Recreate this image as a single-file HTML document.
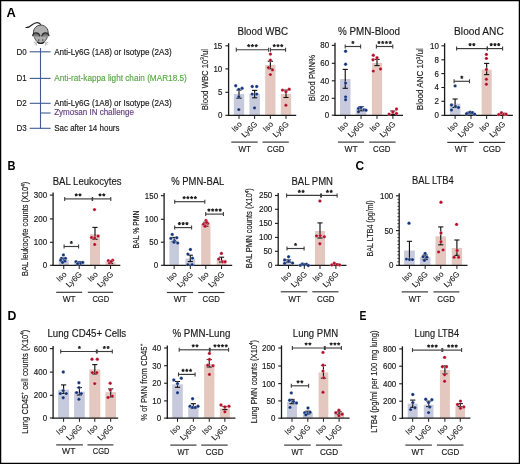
<!DOCTYPE html><html><head><meta charset="utf-8"><style>html,body{margin:0;padding:0;background:#fff;}svg{display:block;will-change:transform;}text{font-family:"Liberation Sans", sans-serif;}</style></head><body>
<svg width="520" height="464" viewBox="0 0 520 464">
<rect x="0" y="0" width="520" height="464" fill="#fff"/>
<rect x="233.80" y="93.90" width="10.40" height="21.40" fill="#c7cadd"/>
<rect x="249.40" y="93.90" width="10.50" height="21.40" fill="#c7cadd"/>
<rect x="265.20" y="64.90" width="10.30" height="50.40" fill="#e4c8bf"/>
<rect x="280.80" y="93.90" width="10.40" height="21.40" fill="#e4c8bf"/>
<line x1="228.60" y1="43.20" x2="228.60" y2="115.90" stroke="#1a1a1a" stroke-width="1.3"/>
<line x1="228.00" y1="115.30" x2="296.20" y2="115.30" stroke="#1a1a1a" stroke-width="1.3"/>
<line x1="239.00" y1="90.10" x2="239.00" y2="98.20" stroke="#111" stroke-width="1.15"/>
<line x1="236.40" y1="90.10" x2="241.60" y2="90.10" stroke="#111" stroke-width="1.1"/>
<line x1="236.40" y1="98.20" x2="241.60" y2="98.20" stroke="#111" stroke-width="1.1"/>
<line x1="254.65" y1="90.40" x2="254.65" y2="97.80" stroke="#111" stroke-width="1.15"/>
<line x1="252.05" y1="90.40" x2="257.25" y2="90.40" stroke="#111" stroke-width="1.1"/>
<line x1="252.05" y1="97.80" x2="257.25" y2="97.80" stroke="#111" stroke-width="1.1"/>
<line x1="270.35" y1="61.30" x2="270.35" y2="68.80" stroke="#111" stroke-width="1.15"/>
<line x1="267.75" y1="61.30" x2="272.95" y2="61.30" stroke="#111" stroke-width="1.1"/>
<line x1="267.75" y1="68.80" x2="272.95" y2="68.80" stroke="#111" stroke-width="1.1"/>
<line x1="286.00" y1="90.10" x2="286.00" y2="97.50" stroke="#111" stroke-width="1.15"/>
<line x1="283.40" y1="90.10" x2="288.60" y2="90.10" stroke="#111" stroke-width="1.1"/>
<line x1="283.40" y1="97.50" x2="288.60" y2="97.50" stroke="#111" stroke-width="1.1"/>
<circle cx="235.70" cy="85.70" r="1.7" fill="#12327a" stroke="#fff" stroke-width="0.5" stroke-opacity="0.55"/>
<circle cx="238.80" cy="89.40" r="1.7" fill="#12327a" stroke="#fff" stroke-width="0.5" stroke-opacity="0.55"/>
<circle cx="242.10" cy="88.30" r="1.7" fill="#12327a" stroke="#fff" stroke-width="0.5" stroke-opacity="0.55"/>
<circle cx="238.80" cy="96.80" r="1.7" fill="#12327a" stroke="#fff" stroke-width="0.5" stroke-opacity="0.55"/>
<circle cx="238.80" cy="109.60" r="1.7" fill="#12327a" stroke="#fff" stroke-width="0.5" stroke-opacity="0.55"/>
<circle cx="252.20" cy="86.50" r="1.7" fill="#12327a" stroke="#fff" stroke-width="0.5" stroke-opacity="0.55"/>
<circle cx="256.70" cy="86.50" r="1.7" fill="#12327a" stroke="#fff" stroke-width="0.5" stroke-opacity="0.55"/>
<circle cx="252.20" cy="94.10" r="1.7" fill="#12327a" stroke="#fff" stroke-width="0.5" stroke-opacity="0.55"/>
<circle cx="256.70" cy="94.10" r="1.7" fill="#12327a" stroke="#fff" stroke-width="0.5" stroke-opacity="0.55"/>
<circle cx="254.50" cy="107.90" r="1.7" fill="#12327a" stroke="#fff" stroke-width="0.5" stroke-opacity="0.55"/>
<circle cx="270.40" cy="54.10" r="1.7" fill="#b50c28" stroke="#fff" stroke-width="0.5" stroke-opacity="0.55"/>
<circle cx="270.40" cy="60.20" r="1.7" fill="#b50c28" stroke="#fff" stroke-width="0.5" stroke-opacity="0.55"/>
<circle cx="268.40" cy="67.60" r="1.7" fill="#b50c28" stroke="#fff" stroke-width="0.5" stroke-opacity="0.55"/>
<circle cx="272.50" cy="69.90" r="1.7" fill="#b50c28" stroke="#fff" stroke-width="0.5" stroke-opacity="0.55"/>
<circle cx="270.40" cy="74.60" r="1.7" fill="#b50c28" stroke="#fff" stroke-width="0.5" stroke-opacity="0.55"/>
<circle cx="282.50" cy="90.10" r="1.7" fill="#b50c28" stroke="#fff" stroke-width="0.5" stroke-opacity="0.55"/>
<circle cx="289.20" cy="89.20" r="1.7" fill="#b50c28" stroke="#fff" stroke-width="0.5" stroke-opacity="0.55"/>
<circle cx="285.90" cy="91.80" r="1.7" fill="#b50c28" stroke="#fff" stroke-width="0.5" stroke-opacity="0.55"/>
<circle cx="285.90" cy="105.20" r="1.7" fill="#b50c28" stroke="#fff" stroke-width="0.5" stroke-opacity="0.55"/>
<line x1="225.40" y1="45.80" x2="228.60" y2="45.80" stroke="#1a1a1a" stroke-width="1.1"/>
<text x="222.30" y="48.70" font-size="8.2" text-anchor="end" fill="#1a1a1a" font-weight="normal" textLength="8.84" lengthAdjust="spacingAndGlyphs" stroke="#1a1a1a" stroke-width="0.16">15</text>
<line x1="225.40" y1="68.90" x2="228.60" y2="68.90" stroke="#1a1a1a" stroke-width="1.1"/>
<text x="222.30" y="71.80" font-size="8.2" text-anchor="end" fill="#1a1a1a" font-weight="normal" textLength="8.84" lengthAdjust="spacingAndGlyphs" stroke="#1a1a1a" stroke-width="0.16">10</text>
<line x1="225.40" y1="92.30" x2="228.60" y2="92.30" stroke="#1a1a1a" stroke-width="1.1"/>
<text x="222.30" y="95.20" font-size="8.2" text-anchor="end" fill="#1a1a1a" font-weight="normal" textLength="4.42" lengthAdjust="spacingAndGlyphs" stroke="#1a1a1a" stroke-width="0.16">5</text>
<line x1="225.40" y1="115.30" x2="228.60" y2="115.30" stroke="#1a1a1a" stroke-width="1.1"/>
<text x="222.30" y="118.20" font-size="8.2" text-anchor="end" fill="#1a1a1a" font-weight="normal" textLength="4.42" lengthAdjust="spacingAndGlyphs" stroke="#1a1a1a" stroke-width="0.16">0</text>
<line x1="239.00" y1="115.30" x2="239.00" y2="118.90" stroke="#1a1a1a" stroke-width="1.0"/>
<line x1="254.65" y1="115.30" x2="254.65" y2="118.90" stroke="#1a1a1a" stroke-width="1.0"/>
<line x1="270.35" y1="115.30" x2="270.35" y2="118.90" stroke="#1a1a1a" stroke-width="1.0"/>
<line x1="286.00" y1="115.30" x2="286.00" y2="118.90" stroke="#1a1a1a" stroke-width="1.0"/>
<text transform="translate(207.60,79.60) rotate(-90)" font-size="9.8" text-anchor="middle" fill="#1a1a1a" stroke="#1a1a1a" stroke-width="0.16" textLength="61.20" lengthAdjust="spacingAndGlyphs">Blood WBC 10<tspan font-size="5.8" dy="-3.4">3</tspan><tspan dy="3.4">/ul</tspan></text>
<text x="237.40" y="34.80" font-size="10.4" text-anchor="start" fill="#1a1a1a" font-weight="normal" textLength="50.60" lengthAdjust="spacingAndGlyphs" stroke="#1a1a1a" stroke-width="0.16">Blood WBC</text>
<line x1="236.30" y1="49.70" x2="268.60" y2="49.70" stroke="#3c3c3c" stroke-width="1.15"/>
<line x1="236.30" y1="47.70" x2="236.30" y2="51.70" stroke="#3c3c3c" stroke-width="1.1"/>
<line x1="268.60" y1="47.70" x2="268.60" y2="51.70" stroke="#3c3c3c" stroke-width="1.1"/>
<path d="M248.70,45.70L248.70,44.10M248.70,45.70L250.22,45.21M248.70,45.70L249.64,46.99M248.70,45.70L247.76,46.99M248.70,45.70L247.18,45.21" stroke="#1e1e1e" stroke-width="1.1" fill="none"/>
<path d="M252.45,45.70L252.45,44.10M252.45,45.70L253.97,45.21M252.45,45.70L253.39,46.99M252.45,45.70L251.51,46.99M252.45,45.70L250.93,45.21" stroke="#1e1e1e" stroke-width="1.1" fill="none"/>
<path d="M256.20,45.70L256.20,44.10M256.20,45.70L257.72,45.21M256.20,45.70L257.14,46.99M256.20,45.70L255.26,46.99M256.20,45.70L254.68,45.21" stroke="#1e1e1e" stroke-width="1.1" fill="none"/>
<line x1="270.40" y1="49.70" x2="285.60" y2="49.70" stroke="#3c3c3c" stroke-width="1.15"/>
<line x1="270.40" y1="47.70" x2="270.40" y2="51.70" stroke="#3c3c3c" stroke-width="1.1"/>
<line x1="285.60" y1="47.70" x2="285.60" y2="51.70" stroke="#3c3c3c" stroke-width="1.1"/>
<path d="M274.25,45.70L274.25,44.10M274.25,45.70L275.77,45.21M274.25,45.70L275.19,46.99M274.25,45.70L273.31,46.99M274.25,45.70L272.73,45.21" stroke="#1e1e1e" stroke-width="1.1" fill="none"/>
<path d="M278.00,45.70L278.00,44.10M278.00,45.70L279.52,45.21M278.00,45.70L278.94,46.99M278.00,45.70L277.06,46.99M278.00,45.70L276.48,45.21" stroke="#1e1e1e" stroke-width="1.1" fill="none"/>
<path d="M281.75,45.70L281.75,44.10M281.75,45.70L283.27,45.21M281.75,45.70L282.69,46.99M281.75,45.70L280.81,46.99M281.75,45.70L280.23,45.21" stroke="#1e1e1e" stroke-width="1.1" fill="none"/>
<text transform="translate(242.30,124.70) rotate(-45)" font-size="8.0" text-anchor="end" fill="#1a1a1a" stroke="#1a1a1a" stroke-width="0.08">Iso</text>
<text transform="translate(257.95,124.70) rotate(-45)" font-size="8.0" text-anchor="end" fill="#1a1a1a" stroke="#1a1a1a" stroke-width="0.08">Ly6G</text>
<text transform="translate(273.65,124.70) rotate(-45)" font-size="8.0" text-anchor="end" fill="#1a1a1a" stroke="#1a1a1a" stroke-width="0.08">Iso</text>
<text transform="translate(289.30,124.70) rotate(-45)" font-size="8.0" text-anchor="end" fill="#1a1a1a" stroke="#1a1a1a" stroke-width="0.08">Ly6G</text>
<line x1="231.30" y1="142.10" x2="257.70" y2="142.10" stroke="#333333" stroke-width="1.15"/>
<line x1="262.50" y1="142.10" x2="288.80" y2="142.10" stroke="#333333" stroke-width="1.15"/>
<text x="238.50" y="152.30" font-size="8.4" text-anchor="start" fill="#1a1a1a" font-weight="normal" textLength="12.50" lengthAdjust="spacingAndGlyphs" stroke="#1a1a1a" stroke-width="0.16">WT</text>
<text x="267.00" y="152.30" font-size="8.4" text-anchor="start" fill="#1a1a1a" font-weight="normal" textLength="17.60" lengthAdjust="spacingAndGlyphs" stroke="#1a1a1a" stroke-width="0.16">CGD</text>
<rect x="340.00" y="79.00" width="10.50" height="36.30" fill="#c7cadd"/>
<rect x="355.80" y="108.80" width="10.50" height="6.50" fill="#c7cadd"/>
<rect x="371.90" y="63.00" width="10.20" height="52.30" fill="#e4c8bf"/>
<rect x="387.80" y="113.00" width="10.20" height="2.30" fill="#e4c8bf"/>
<line x1="335.00" y1="42.80" x2="335.00" y2="115.90" stroke="#1a1a1a" stroke-width="1.3"/>
<line x1="334.40" y1="115.30" x2="403.00" y2="115.30" stroke="#1a1a1a" stroke-width="1.3"/>
<line x1="345.25" y1="69.40" x2="345.25" y2="88.30" stroke="#111" stroke-width="1.15"/>
<line x1="342.65" y1="69.40" x2="347.85" y2="69.40" stroke="#111" stroke-width="1.1"/>
<line x1="342.65" y1="88.30" x2="347.85" y2="88.30" stroke="#111" stroke-width="1.1"/>
<line x1="361.05" y1="106.60" x2="361.05" y2="110.80" stroke="#111" stroke-width="1.15"/>
<line x1="358.45" y1="106.60" x2="363.65" y2="106.60" stroke="#111" stroke-width="1.1"/>
<line x1="358.45" y1="110.80" x2="363.65" y2="110.80" stroke="#111" stroke-width="1.1"/>
<line x1="377.00" y1="59.40" x2="377.00" y2="65.60" stroke="#111" stroke-width="1.15"/>
<line x1="374.40" y1="59.40" x2="379.60" y2="59.40" stroke="#111" stroke-width="1.1"/>
<line x1="374.40" y1="65.60" x2="379.60" y2="65.60" stroke="#111" stroke-width="1.1"/>
<line x1="392.90" y1="111.00" x2="392.90" y2="114.60" stroke="#111" stroke-width="1.15"/>
<line x1="390.30" y1="111.00" x2="395.50" y2="111.00" stroke="#111" stroke-width="1.1"/>
<line x1="390.30" y1="114.60" x2="395.50" y2="114.60" stroke="#111" stroke-width="1.1"/>
<circle cx="345.60" cy="51.20" r="1.7" fill="#12327a" stroke="#fff" stroke-width="0.5" stroke-opacity="0.55"/>
<circle cx="345.60" cy="64.20" r="1.7" fill="#12327a" stroke="#fff" stroke-width="0.5" stroke-opacity="0.55"/>
<circle cx="345.60" cy="83.10" r="1.7" fill="#12327a" stroke="#fff" stroke-width="0.5" stroke-opacity="0.55"/>
<circle cx="345.60" cy="96.90" r="1.7" fill="#12327a" stroke="#fff" stroke-width="0.5" stroke-opacity="0.55"/>
<circle cx="345.60" cy="99.80" r="1.7" fill="#12327a" stroke="#fff" stroke-width="0.5" stroke-opacity="0.55"/>
<circle cx="358.50" cy="108.50" r="1.7" fill="#12327a" stroke="#fff" stroke-width="0.5" stroke-opacity="0.55"/>
<circle cx="361.00" cy="107.50" r="1.7" fill="#12327a" stroke="#fff" stroke-width="0.5" stroke-opacity="0.55"/>
<circle cx="364.00" cy="109.80" r="1.7" fill="#12327a" stroke="#fff" stroke-width="0.5" stroke-opacity="0.55"/>
<circle cx="358.50" cy="111.70" r="1.7" fill="#12327a" stroke="#fff" stroke-width="0.5" stroke-opacity="0.55"/>
<circle cx="366.00" cy="110.20" r="1.7" fill="#12327a" stroke="#fff" stroke-width="0.5" stroke-opacity="0.55"/>
<circle cx="373.30" cy="55.30" r="1.7" fill="#b50c28" stroke="#fff" stroke-width="0.5" stroke-opacity="0.55"/>
<circle cx="377.00" cy="57.80" r="1.7" fill="#b50c28" stroke="#fff" stroke-width="0.5" stroke-opacity="0.55"/>
<circle cx="373.00" cy="59.80" r="1.7" fill="#b50c28" stroke="#fff" stroke-width="0.5" stroke-opacity="0.55"/>
<circle cx="373.30" cy="71.10" r="1.7" fill="#b50c28" stroke="#fff" stroke-width="0.5" stroke-opacity="0.55"/>
<circle cx="380.50" cy="69.00" r="1.7" fill="#b50c28" stroke="#fff" stroke-width="0.5" stroke-opacity="0.55"/>
<circle cx="389.10" cy="114.10" r="1.7" fill="#b50c28" stroke="#fff" stroke-width="0.5" stroke-opacity="0.55"/>
<circle cx="392.80" cy="112.00" r="1.7" fill="#b50c28" stroke="#fff" stroke-width="0.5" stroke-opacity="0.55"/>
<circle cx="396.50" cy="109.00" r="1.7" fill="#b50c28" stroke="#fff" stroke-width="0.5" stroke-opacity="0.55"/>
<circle cx="396.50" cy="113.50" r="1.7" fill="#b50c28" stroke="#fff" stroke-width="0.5" stroke-opacity="0.55"/>
<line x1="331.80" y1="45.40" x2="335.00" y2="45.40" stroke="#1a1a1a" stroke-width="1.1"/>
<text x="329.20" y="48.30" font-size="8.2" text-anchor="end" fill="#1a1a1a" font-weight="normal" textLength="8.84" lengthAdjust="spacingAndGlyphs" stroke="#1a1a1a" stroke-width="0.16">80</text>
<line x1="331.80" y1="63.30" x2="335.00" y2="63.30" stroke="#1a1a1a" stroke-width="1.1"/>
<text x="329.20" y="66.20" font-size="8.2" text-anchor="end" fill="#1a1a1a" font-weight="normal" textLength="8.84" lengthAdjust="spacingAndGlyphs" stroke="#1a1a1a" stroke-width="0.16">60</text>
<line x1="331.80" y1="80.80" x2="335.00" y2="80.80" stroke="#1a1a1a" stroke-width="1.1"/>
<text x="329.20" y="83.70" font-size="8.2" text-anchor="end" fill="#1a1a1a" font-weight="normal" textLength="8.84" lengthAdjust="spacingAndGlyphs" stroke="#1a1a1a" stroke-width="0.16">40</text>
<line x1="331.80" y1="98.30" x2="335.00" y2="98.30" stroke="#1a1a1a" stroke-width="1.1"/>
<text x="329.20" y="101.20" font-size="8.2" text-anchor="end" fill="#1a1a1a" font-weight="normal" textLength="8.84" lengthAdjust="spacingAndGlyphs" stroke="#1a1a1a" stroke-width="0.16">20</text>
<line x1="331.80" y1="115.20" x2="335.00" y2="115.20" stroke="#1a1a1a" stroke-width="1.1"/>
<text x="329.20" y="118.10" font-size="8.2" text-anchor="end" fill="#1a1a1a" font-weight="normal" textLength="4.42" lengthAdjust="spacingAndGlyphs" stroke="#1a1a1a" stroke-width="0.16">0</text>
<line x1="345.25" y1="115.30" x2="345.25" y2="118.90" stroke="#1a1a1a" stroke-width="1.0"/>
<line x1="361.05" y1="115.30" x2="361.05" y2="118.90" stroke="#1a1a1a" stroke-width="1.0"/>
<line x1="377.00" y1="115.30" x2="377.00" y2="118.90" stroke="#1a1a1a" stroke-width="1.0"/>
<line x1="392.90" y1="115.30" x2="392.90" y2="118.90" stroke="#1a1a1a" stroke-width="1.0"/>
<text transform="translate(314.60,78.00) rotate(-90)" font-size="9.8" text-anchor="middle" fill="#1a1a1a" stroke="#1a1a1a" stroke-width="0.16" textLength="46.30" lengthAdjust="spacingAndGlyphs">Blood PMN%</text>
<text x="337.90" y="34.80" font-size="10.4" text-anchor="start" fill="#1a1a1a" font-weight="normal" textLength="62.00" lengthAdjust="spacingAndGlyphs" stroke="#1a1a1a" stroke-width="0.16">% PMN-Blood</text>
<line x1="345.20" y1="46.50" x2="360.60" y2="46.50" stroke="#3c3c3c" stroke-width="1.15"/>
<line x1="345.20" y1="44.50" x2="345.20" y2="48.50" stroke="#3c3c3c" stroke-width="1.1"/>
<line x1="360.60" y1="44.50" x2="360.60" y2="48.50" stroke="#3c3c3c" stroke-width="1.1"/>
<path d="M352.90,42.50L352.90,40.90M352.90,42.50L354.42,42.01M352.90,42.50L353.84,43.79M352.90,42.50L351.96,43.79M352.90,42.50L351.38,42.01" stroke="#1e1e1e" stroke-width="1.1" fill="none"/>
<line x1="376.40" y1="46.50" x2="392.80" y2="46.50" stroke="#3c3c3c" stroke-width="1.15"/>
<line x1="376.40" y1="44.50" x2="376.40" y2="48.50" stroke="#3c3c3c" stroke-width="1.1"/>
<line x1="392.80" y1="44.50" x2="392.80" y2="48.50" stroke="#3c3c3c" stroke-width="1.1"/>
<path d="M378.98,42.50L378.98,40.90M378.98,42.50L380.50,42.01M378.98,42.50L379.92,43.79M378.98,42.50L378.03,43.79M378.98,42.50L377.45,42.01" stroke="#1e1e1e" stroke-width="1.1" fill="none"/>
<path d="M382.73,42.50L382.73,40.90M382.73,42.50L384.25,42.01M382.73,42.50L383.67,43.79M382.73,42.50L381.78,43.79M382.73,42.50L381.20,42.01" stroke="#1e1e1e" stroke-width="1.1" fill="none"/>
<path d="M386.48,42.50L386.48,40.90M386.48,42.50L388.00,42.01M386.48,42.50L387.42,43.79M386.48,42.50L385.53,43.79M386.48,42.50L384.95,42.01" stroke="#1e1e1e" stroke-width="1.1" fill="none"/>
<path d="M390.23,42.50L390.23,40.90M390.23,42.50L391.75,42.01M390.23,42.50L391.17,43.79M390.23,42.50L389.28,43.79M390.23,42.50L388.70,42.01" stroke="#1e1e1e" stroke-width="1.1" fill="none"/>
<text transform="translate(348.55,124.70) rotate(-45)" font-size="8.0" text-anchor="end" fill="#1a1a1a" stroke="#1a1a1a" stroke-width="0.08">Iso</text>
<text transform="translate(364.35,124.70) rotate(-45)" font-size="8.0" text-anchor="end" fill="#1a1a1a" stroke="#1a1a1a" stroke-width="0.08">Ly6G</text>
<text transform="translate(380.30,124.70) rotate(-45)" font-size="8.0" text-anchor="end" fill="#1a1a1a" stroke="#1a1a1a" stroke-width="0.08">Iso</text>
<text transform="translate(396.20,124.70) rotate(-45)" font-size="8.0" text-anchor="end" fill="#1a1a1a" stroke="#1a1a1a" stroke-width="0.08">Ly6G</text>
<line x1="337.90" y1="142.10" x2="364.00" y2="142.10" stroke="#333333" stroke-width="1.15"/>
<line x1="369.20" y1="142.10" x2="395.60" y2="142.10" stroke="#333333" stroke-width="1.15"/>
<text x="344.60" y="151.80" font-size="8.4" text-anchor="start" fill="#1a1a1a" font-weight="normal" textLength="13.10" lengthAdjust="spacingAndGlyphs" stroke="#1a1a1a" stroke-width="0.16">WT</text>
<text x="373.00" y="151.80" font-size="8.4" text-anchor="start" fill="#1a1a1a" font-weight="normal" textLength="17.40" lengthAdjust="spacingAndGlyphs" stroke="#1a1a1a" stroke-width="0.16">CGD</text>
<rect x="449.80" y="103.70" width="10.60" height="11.60" fill="#c7cadd"/>
<rect x="466.00" y="112.80" width="10.00" height="2.50" fill="#c7cadd"/>
<rect x="481.60" y="69.70" width="10.10" height="45.60" fill="#e4c8bf"/>
<rect x="497.70" y="114.30" width="9.90" height="1.00" fill="#e4c8bf"/>
<line x1="444.60" y1="43.20" x2="444.60" y2="115.90" stroke="#1a1a1a" stroke-width="1.3"/>
<line x1="444.00" y1="115.30" x2="512.90" y2="115.30" stroke="#1a1a1a" stroke-width="1.3"/>
<line x1="455.10" y1="99.00" x2="455.10" y2="107.50" stroke="#111" stroke-width="1.15"/>
<line x1="452.50" y1="99.00" x2="457.70" y2="99.00" stroke="#111" stroke-width="1.1"/>
<line x1="452.50" y1="107.50" x2="457.70" y2="107.50" stroke="#111" stroke-width="1.1"/>
<line x1="471.00" y1="111.80" x2="471.00" y2="113.80" stroke="#111" stroke-width="1.15"/>
<line x1="468.40" y1="111.80" x2="473.60" y2="111.80" stroke="#111" stroke-width="1.1"/>
<line x1="468.40" y1="113.80" x2="473.60" y2="113.80" stroke="#111" stroke-width="1.1"/>
<line x1="486.65" y1="63.40" x2="486.65" y2="74.60" stroke="#111" stroke-width="1.15"/>
<line x1="484.05" y1="63.40" x2="489.25" y2="63.40" stroke="#111" stroke-width="1.1"/>
<line x1="484.05" y1="74.60" x2="489.25" y2="74.60" stroke="#111" stroke-width="1.1"/>
<line x1="502.65" y1="113.20" x2="502.65" y2="115.00" stroke="#111" stroke-width="1.15"/>
<line x1="500.05" y1="113.20" x2="505.25" y2="113.20" stroke="#111" stroke-width="1.1"/>
<line x1="500.05" y1="115.00" x2="505.25" y2="115.00" stroke="#111" stroke-width="1.1"/>
<circle cx="455.10" cy="85.90" r="1.7" fill="#12327a" stroke="#fff" stroke-width="0.5" stroke-opacity="0.55"/>
<circle cx="451.50" cy="105.00" r="1.7" fill="#12327a" stroke="#fff" stroke-width="0.5" stroke-opacity="0.55"/>
<circle cx="455.50" cy="106.40" r="1.7" fill="#12327a" stroke="#fff" stroke-width="0.5" stroke-opacity="0.55"/>
<circle cx="458.50" cy="107.50" r="1.7" fill="#12327a" stroke="#fff" stroke-width="0.5" stroke-opacity="0.55"/>
<circle cx="451.50" cy="110.00" r="1.7" fill="#12327a" stroke="#fff" stroke-width="0.5" stroke-opacity="0.55"/>
<circle cx="468.00" cy="113.00" r="1.7" fill="#12327a" stroke="#fff" stroke-width="0.5" stroke-opacity="0.55"/>
<circle cx="470.20" cy="112.30" r="1.7" fill="#12327a" stroke="#fff" stroke-width="0.5" stroke-opacity="0.55"/>
<circle cx="472.40" cy="112.80" r="1.7" fill="#12327a" stroke="#fff" stroke-width="0.5" stroke-opacity="0.55"/>
<circle cx="474.60" cy="114.20" r="1.7" fill="#12327a" stroke="#fff" stroke-width="0.5" stroke-opacity="0.55"/>
<circle cx="466.50" cy="113.80" r="1.7" fill="#12327a" stroke="#fff" stroke-width="0.5" stroke-opacity="0.55"/>
<circle cx="486.40" cy="54.40" r="1.7" fill="#b50c28" stroke="#fff" stroke-width="0.5" stroke-opacity="0.55"/>
<circle cx="486.40" cy="58.40" r="1.7" fill="#b50c28" stroke="#fff" stroke-width="0.5" stroke-opacity="0.55"/>
<circle cx="486.40" cy="69.50" r="1.7" fill="#b50c28" stroke="#fff" stroke-width="0.5" stroke-opacity="0.55"/>
<circle cx="486.40" cy="79.30" r="1.7" fill="#b50c28" stroke="#fff" stroke-width="0.5" stroke-opacity="0.55"/>
<circle cx="486.40" cy="84.20" r="1.7" fill="#b50c28" stroke="#fff" stroke-width="0.5" stroke-opacity="0.55"/>
<circle cx="498.80" cy="114.50" r="1.7" fill="#b50c28" stroke="#fff" stroke-width="0.5" stroke-opacity="0.55"/>
<circle cx="501.40" cy="112.80" r="1.7" fill="#b50c28" stroke="#fff" stroke-width="0.5" stroke-opacity="0.55"/>
<circle cx="503.90" cy="114.50" r="1.7" fill="#b50c28" stroke="#fff" stroke-width="0.5" stroke-opacity="0.55"/>
<circle cx="506.10" cy="114.20" r="1.7" fill="#b50c28" stroke="#fff" stroke-width="0.5" stroke-opacity="0.55"/>
<line x1="441.40" y1="45.80" x2="444.60" y2="45.80" stroke="#1a1a1a" stroke-width="1.1"/>
<text x="438.90" y="48.70" font-size="8.2" text-anchor="end" fill="#1a1a1a" font-weight="normal" textLength="8.84" lengthAdjust="spacingAndGlyphs" stroke="#1a1a1a" stroke-width="0.16">10</text>
<line x1="441.40" y1="59.80" x2="444.60" y2="59.80" stroke="#1a1a1a" stroke-width="1.1"/>
<text x="438.90" y="62.70" font-size="8.2" text-anchor="end" fill="#1a1a1a" font-weight="normal" textLength="4.42" lengthAdjust="spacingAndGlyphs" stroke="#1a1a1a" stroke-width="0.16">8</text>
<line x1="441.40" y1="73.60" x2="444.60" y2="73.60" stroke="#1a1a1a" stroke-width="1.1"/>
<text x="438.90" y="76.50" font-size="8.2" text-anchor="end" fill="#1a1a1a" font-weight="normal" textLength="4.42" lengthAdjust="spacingAndGlyphs" stroke="#1a1a1a" stroke-width="0.16">6</text>
<line x1="441.40" y1="87.50" x2="444.60" y2="87.50" stroke="#1a1a1a" stroke-width="1.1"/>
<text x="438.90" y="90.40" font-size="8.2" text-anchor="end" fill="#1a1a1a" font-weight="normal" textLength="4.42" lengthAdjust="spacingAndGlyphs" stroke="#1a1a1a" stroke-width="0.16">4</text>
<line x1="441.40" y1="101.30" x2="444.60" y2="101.30" stroke="#1a1a1a" stroke-width="1.1"/>
<text x="438.90" y="104.20" font-size="8.2" text-anchor="end" fill="#1a1a1a" font-weight="normal" textLength="4.42" lengthAdjust="spacingAndGlyphs" stroke="#1a1a1a" stroke-width="0.16">2</text>
<line x1="441.40" y1="115.30" x2="444.60" y2="115.30" stroke="#1a1a1a" stroke-width="1.1"/>
<text x="438.90" y="118.20" font-size="8.2" text-anchor="end" fill="#1a1a1a" font-weight="normal" textLength="4.42" lengthAdjust="spacingAndGlyphs" stroke="#1a1a1a" stroke-width="0.16">0</text>
<line x1="455.10" y1="115.30" x2="455.10" y2="118.90" stroke="#1a1a1a" stroke-width="1.0"/>
<line x1="471.00" y1="115.30" x2="471.00" y2="118.90" stroke="#1a1a1a" stroke-width="1.0"/>
<line x1="486.65" y1="115.30" x2="486.65" y2="118.90" stroke="#1a1a1a" stroke-width="1.0"/>
<line x1="502.65" y1="115.30" x2="502.65" y2="118.90" stroke="#1a1a1a" stroke-width="1.0"/>
<text transform="translate(423.40,79.20) rotate(-90)" font-size="9.8" text-anchor="middle" fill="#1a1a1a" stroke="#1a1a1a" stroke-width="0.16" textLength="61.90" lengthAdjust="spacingAndGlyphs">Blood ANC 10<tspan font-size="5.8" dy="-3.4">3</tspan><tspan dy="3.4">/ul</tspan></text>
<text x="454.10" y="34.60" font-size="10.4" text-anchor="start" fill="#1a1a1a" font-weight="normal" textLength="49.70" lengthAdjust="spacingAndGlyphs" stroke="#1a1a1a" stroke-width="0.16">Blood ANC</text>
<line x1="456.60" y1="48.60" x2="487.30" y2="48.60" stroke="#3c3c3c" stroke-width="1.15"/>
<line x1="456.60" y1="46.60" x2="456.60" y2="50.60" stroke="#3c3c3c" stroke-width="1.1"/>
<line x1="487.30" y1="46.60" x2="487.30" y2="50.60" stroke="#3c3c3c" stroke-width="1.1"/>
<path d="M470.08,44.60L470.08,43.00M470.08,44.60L471.60,44.11M470.08,44.60L471.02,45.89M470.08,44.60L469.13,45.89M470.08,44.60L468.55,44.11" stroke="#1e1e1e" stroke-width="1.1" fill="none"/>
<path d="M473.83,44.60L473.83,43.00M473.83,44.60L475.35,44.11M473.83,44.60L474.77,45.89M473.83,44.60L472.88,45.89M473.83,44.60L472.30,44.11" stroke="#1e1e1e" stroke-width="1.1" fill="none"/>
<line x1="487.30" y1="48.60" x2="502.60" y2="48.60" stroke="#3c3c3c" stroke-width="1.15"/>
<line x1="487.30" y1="46.60" x2="487.30" y2="50.60" stroke="#3c3c3c" stroke-width="1.1"/>
<line x1="502.60" y1="46.60" x2="502.60" y2="50.60" stroke="#3c3c3c" stroke-width="1.1"/>
<path d="M491.20,44.60L491.20,43.00M491.20,44.60L492.72,44.11M491.20,44.60L492.14,45.89M491.20,44.60L490.26,45.89M491.20,44.60L489.68,44.11" stroke="#1e1e1e" stroke-width="1.1" fill="none"/>
<path d="M494.95,44.60L494.95,43.00M494.95,44.60L496.47,44.11M494.95,44.60L495.89,45.89M494.95,44.60L494.01,45.89M494.95,44.60L493.43,44.11" stroke="#1e1e1e" stroke-width="1.1" fill="none"/>
<path d="M498.70,44.60L498.70,43.00M498.70,44.60L500.22,44.11M498.70,44.60L499.64,45.89M498.70,44.60L497.76,45.89M498.70,44.60L497.18,44.11" stroke="#1e1e1e" stroke-width="1.1" fill="none"/>
<line x1="454.10" y1="81.30" x2="469.50" y2="81.30" stroke="#3c3c3c" stroke-width="1.15"/>
<line x1="454.10" y1="79.30" x2="454.10" y2="83.30" stroke="#3c3c3c" stroke-width="1.1"/>
<line x1="469.50" y1="79.30" x2="469.50" y2="83.30" stroke="#3c3c3c" stroke-width="1.1"/>
<path d="M461.80,77.30L461.80,75.70M461.80,77.30L463.32,76.81M461.80,77.30L462.74,78.59M461.80,77.30L460.86,78.59M461.80,77.30L460.28,76.81" stroke="#1e1e1e" stroke-width="1.1" fill="none"/>
<text transform="translate(458.40,124.70) rotate(-45)" font-size="8.0" text-anchor="end" fill="#1a1a1a" stroke="#1a1a1a" stroke-width="0.08">Iso</text>
<text transform="translate(474.30,124.70) rotate(-45)" font-size="8.0" text-anchor="end" fill="#1a1a1a" stroke="#1a1a1a" stroke-width="0.08">Ly6G</text>
<text transform="translate(489.95,124.70) rotate(-45)" font-size="8.0" text-anchor="end" fill="#1a1a1a" stroke="#1a1a1a" stroke-width="0.08">Iso</text>
<text transform="translate(505.95,124.70) rotate(-45)" font-size="8.0" text-anchor="end" fill="#1a1a1a" stroke="#1a1a1a" stroke-width="0.08">Ly6G</text>
<line x1="447.30" y1="142.40" x2="473.80" y2="142.40" stroke="#333333" stroke-width="1.15"/>
<line x1="479.00" y1="142.40" x2="505.10" y2="142.40" stroke="#333333" stroke-width="1.15"/>
<text x="454.70" y="151.90" font-size="8.4" text-anchor="start" fill="#1a1a1a" font-weight="normal" textLength="12.70" lengthAdjust="spacingAndGlyphs" stroke="#1a1a1a" stroke-width="0.16">WT</text>
<text x="482.90" y="151.90" font-size="8.4" text-anchor="start" fill="#1a1a1a" font-weight="normal" textLength="17.90" lengthAdjust="spacingAndGlyphs" stroke="#1a1a1a" stroke-width="0.16">CGD</text>
<rect x="58.70" y="259.70" width="10.10" height="5.70" fill="#c7cadd"/>
<rect x="74.20" y="262.20" width="10.00" height="3.20" fill="#c7cadd"/>
<rect x="90.00" y="234.20" width="10.00" height="31.20" fill="#e4c8bf"/>
<rect x="105.60" y="262.20" width="9.90" height="3.20" fill="#e4c8bf"/>
<line x1="53.10" y1="192.50" x2="53.10" y2="266.00" stroke="#1a1a1a" stroke-width="1.3"/>
<line x1="52.50" y1="265.40" x2="120.30" y2="265.40" stroke="#1a1a1a" stroke-width="1.3"/>
<line x1="63.75" y1="258.00" x2="63.75" y2="261.60" stroke="#111" stroke-width="1.15"/>
<line x1="61.15" y1="258.00" x2="66.35" y2="258.00" stroke="#111" stroke-width="1.1"/>
<line x1="61.15" y1="261.60" x2="66.35" y2="261.60" stroke="#111" stroke-width="1.1"/>
<line x1="79.20" y1="261.60" x2="79.20" y2="263.60" stroke="#111" stroke-width="1.15"/>
<line x1="76.60" y1="261.60" x2="81.80" y2="261.60" stroke="#111" stroke-width="1.1"/>
<line x1="76.60" y1="263.60" x2="81.80" y2="263.60" stroke="#111" stroke-width="1.1"/>
<line x1="95.00" y1="227.40" x2="95.00" y2="239.30" stroke="#111" stroke-width="1.15"/>
<line x1="92.40" y1="227.40" x2="97.60" y2="227.40" stroke="#111" stroke-width="1.1"/>
<line x1="92.40" y1="239.30" x2="97.60" y2="239.30" stroke="#111" stroke-width="1.1"/>
<line x1="110.55" y1="260.60" x2="110.55" y2="263.40" stroke="#111" stroke-width="1.15"/>
<line x1="107.95" y1="260.60" x2="113.15" y2="260.60" stroke="#111" stroke-width="1.1"/>
<line x1="107.95" y1="263.40" x2="113.15" y2="263.40" stroke="#111" stroke-width="1.1"/>
<circle cx="63.40" cy="254.90" r="1.7" fill="#12327a" stroke="#fff" stroke-width="0.5" stroke-opacity="0.55"/>
<circle cx="61.40" cy="258.40" r="1.7" fill="#12327a" stroke="#fff" stroke-width="0.5" stroke-opacity="0.55"/>
<circle cx="65.50" cy="258.40" r="1.7" fill="#12327a" stroke="#fff" stroke-width="0.5" stroke-opacity="0.55"/>
<circle cx="60.70" cy="260.30" r="1.7" fill="#12327a" stroke="#fff" stroke-width="0.5" stroke-opacity="0.55"/>
<circle cx="64.80" cy="261.10" r="1.7" fill="#12327a" stroke="#fff" stroke-width="0.5" stroke-opacity="0.55"/>
<circle cx="62.50" cy="262.40" r="1.7" fill="#12327a" stroke="#fff" stroke-width="0.5" stroke-opacity="0.55"/>
<circle cx="76.00" cy="261.60" r="1.7" fill="#12327a" stroke="#fff" stroke-width="0.5" stroke-opacity="0.55"/>
<circle cx="78.20" cy="263.00" r="1.7" fill="#12327a" stroke="#fff" stroke-width="0.5" stroke-opacity="0.55"/>
<circle cx="80.50" cy="263.40" r="1.7" fill="#12327a" stroke="#fff" stroke-width="0.5" stroke-opacity="0.55"/>
<circle cx="82.70" cy="262.40" r="1.7" fill="#12327a" stroke="#fff" stroke-width="0.5" stroke-opacity="0.55"/>
<circle cx="77.60" cy="263.80" r="1.7" fill="#12327a" stroke="#fff" stroke-width="0.5" stroke-opacity="0.55"/>
<circle cx="94.50" cy="209.60" r="1.7" fill="#b50c28" stroke="#fff" stroke-width="0.5" stroke-opacity="0.55"/>
<circle cx="91.60" cy="237.50" r="1.7" fill="#b50c28" stroke="#fff" stroke-width="0.5" stroke-opacity="0.55"/>
<circle cx="94.70" cy="238.00" r="1.7" fill="#b50c28" stroke="#fff" stroke-width="0.5" stroke-opacity="0.55"/>
<circle cx="98.10" cy="236.10" r="1.7" fill="#b50c28" stroke="#fff" stroke-width="0.5" stroke-opacity="0.55"/>
<circle cx="94.70" cy="244.50" r="1.7" fill="#b50c28" stroke="#fff" stroke-width="0.5" stroke-opacity="0.55"/>
<circle cx="108.30" cy="260.70" r="1.7" fill="#b50c28" stroke="#fff" stroke-width="0.5" stroke-opacity="0.55"/>
<circle cx="112.60" cy="260.30" r="1.7" fill="#b50c28" stroke="#fff" stroke-width="0.5" stroke-opacity="0.55"/>
<circle cx="109.60" cy="263.00" r="1.7" fill="#b50c28" stroke="#fff" stroke-width="0.5" stroke-opacity="0.55"/>
<circle cx="111.20" cy="261.60" r="1.7" fill="#b50c28" stroke="#fff" stroke-width="0.5" stroke-opacity="0.55"/>
<line x1="49.90" y1="195.10" x2="53.10" y2="195.10" stroke="#1a1a1a" stroke-width="1.1"/>
<text x="47.10" y="198.00" font-size="8.2" text-anchor="end" fill="#1a1a1a" font-weight="normal" textLength="13.27" lengthAdjust="spacingAndGlyphs" stroke="#1a1a1a" stroke-width="0.16">300</text>
<line x1="49.90" y1="218.90" x2="53.10" y2="218.90" stroke="#1a1a1a" stroke-width="1.1"/>
<text x="47.10" y="221.80" font-size="8.2" text-anchor="end" fill="#1a1a1a" font-weight="normal" textLength="13.27" lengthAdjust="spacingAndGlyphs" stroke="#1a1a1a" stroke-width="0.16">200</text>
<line x1="49.90" y1="242.30" x2="53.10" y2="242.30" stroke="#1a1a1a" stroke-width="1.1"/>
<text x="47.10" y="245.20" font-size="8.2" text-anchor="end" fill="#1a1a1a" font-weight="normal" textLength="13.27" lengthAdjust="spacingAndGlyphs" stroke="#1a1a1a" stroke-width="0.16">100</text>
<line x1="49.90" y1="265.30" x2="53.10" y2="265.30" stroke="#1a1a1a" stroke-width="1.1"/>
<text x="47.10" y="268.20" font-size="8.2" text-anchor="end" fill="#1a1a1a" font-weight="normal" textLength="4.42" lengthAdjust="spacingAndGlyphs" stroke="#1a1a1a" stroke-width="0.16">0</text>
<line x1="63.75" y1="265.40" x2="63.75" y2="269.00" stroke="#1a1a1a" stroke-width="1.0"/>
<line x1="79.20" y1="265.40" x2="79.20" y2="269.00" stroke="#1a1a1a" stroke-width="1.0"/>
<line x1="95.00" y1="265.40" x2="95.00" y2="269.00" stroke="#1a1a1a" stroke-width="1.0"/>
<line x1="110.55" y1="265.40" x2="110.55" y2="269.00" stroke="#1a1a1a" stroke-width="1.0"/>
<text transform="translate(27.90,228.90) rotate(-90)" font-size="9.8" text-anchor="middle" fill="#1a1a1a" stroke="#1a1a1a" stroke-width="0.16" textLength="94.20" lengthAdjust="spacingAndGlyphs">BAL leukocyte counts (X10<tspan font-size="5.8" dy="-3.4">4</tspan><tspan dy="3.4">)</tspan></text>
<text x="52.70" y="184.50" font-size="10.4" text-anchor="start" fill="#1a1a1a" font-weight="normal" textLength="68.80" lengthAdjust="spacingAndGlyphs" stroke="#1a1a1a" stroke-width="0.16">BAL Leukocytes</text>
<line x1="64.70" y1="198.90" x2="92.20" y2="198.90" stroke="#3c3c3c" stroke-width="1.15"/>
<line x1="64.70" y1="196.90" x2="64.70" y2="200.90" stroke="#3c3c3c" stroke-width="1.1"/>
<line x1="92.20" y1="196.90" x2="92.20" y2="200.90" stroke="#3c3c3c" stroke-width="1.1"/>
<path d="M76.22,194.90L76.22,193.30M76.22,194.90L77.75,194.41M76.22,194.90L77.17,196.19M76.22,194.90L75.28,196.19M76.22,194.90L74.70,194.41" stroke="#1e1e1e" stroke-width="1.1" fill="none"/>
<path d="M79.97,194.90L79.97,193.30M79.97,194.90L81.50,194.41M79.97,194.90L80.92,196.19M79.97,194.90L79.03,196.19M79.97,194.90L78.45,194.41" stroke="#1e1e1e" stroke-width="1.1" fill="none"/>
<line x1="92.60" y1="198.90" x2="110.80" y2="198.90" stroke="#3c3c3c" stroke-width="1.15"/>
<line x1="92.60" y1="196.90" x2="92.60" y2="200.90" stroke="#3c3c3c" stroke-width="1.1"/>
<line x1="110.80" y1="196.90" x2="110.80" y2="200.90" stroke="#3c3c3c" stroke-width="1.1"/>
<path d="M100.03,194.90L100.03,193.30M100.03,194.90L101.55,194.41M100.03,194.90L100.97,196.19M100.03,194.90L99.08,196.19M100.03,194.90L98.50,194.41" stroke="#1e1e1e" stroke-width="1.1" fill="none"/>
<path d="M103.78,194.90L103.78,193.30M103.78,194.90L105.30,194.41M103.78,194.90L104.72,196.19M103.78,194.90L102.83,196.19M103.78,194.90L102.25,194.41" stroke="#1e1e1e" stroke-width="1.1" fill="none"/>
<line x1="64.10" y1="246.50" x2="78.60" y2="246.50" stroke="#3c3c3c" stroke-width="1.15"/>
<line x1="64.10" y1="244.50" x2="64.10" y2="248.50" stroke="#3c3c3c" stroke-width="1.1"/>
<line x1="78.60" y1="244.50" x2="78.60" y2="248.50" stroke="#3c3c3c" stroke-width="1.1"/>
<path d="M71.35,242.50L71.35,240.90M71.35,242.50L72.87,242.01M71.35,242.50L72.29,243.79M71.35,242.50L70.41,243.79M71.35,242.50L69.83,242.01" stroke="#1e1e1e" stroke-width="1.1" fill="none"/>
<text transform="translate(67.05,274.80) rotate(-45)" font-size="8.0" text-anchor="end" fill="#1a1a1a" stroke="#1a1a1a" stroke-width="0.08">Iso</text>
<text transform="translate(82.50,274.80) rotate(-45)" font-size="8.0" text-anchor="end" fill="#1a1a1a" stroke="#1a1a1a" stroke-width="0.08">Ly6G</text>
<text transform="translate(98.30,274.80) rotate(-45)" font-size="8.0" text-anchor="end" fill="#1a1a1a" stroke="#1a1a1a" stroke-width="0.08">Iso</text>
<text transform="translate(113.85,274.80) rotate(-45)" font-size="8.0" text-anchor="end" fill="#1a1a1a" stroke="#1a1a1a" stroke-width="0.08">Ly6G</text>
<line x1="56.20" y1="292.30" x2="82.10" y2="292.30" stroke="#333333" stroke-width="1.15"/>
<line x1="87.80" y1="292.30" x2="113.10" y2="292.30" stroke="#333333" stroke-width="1.15"/>
<text x="62.70" y="301.80" font-size="8.4" text-anchor="start" fill="#1a1a1a" font-weight="normal" textLength="12.90" lengthAdjust="spacingAndGlyphs" stroke="#1a1a1a" stroke-width="0.16">WT</text>
<text x="92.40" y="301.80" font-size="8.4" text-anchor="start" fill="#1a1a1a" font-weight="normal" textLength="16.80" lengthAdjust="spacingAndGlyphs" stroke="#1a1a1a" stroke-width="0.16">CGD</text>
<rect x="169.40" y="240.50" width="9.50" height="24.90" fill="#c7cadd"/>
<rect x="185.40" y="258.60" width="9.80" height="6.80" fill="#c7cadd"/>
<rect x="201.10" y="224.50" width="9.40" height="40.90" fill="#e4c8bf"/>
<rect x="216.70" y="259.80" width="9.70" height="5.60" fill="#e4c8bf"/>
<line x1="164.10" y1="193.10" x2="164.10" y2="266.00" stroke="#1a1a1a" stroke-width="1.3"/>
<line x1="163.50" y1="265.40" x2="232.20" y2="265.40" stroke="#1a1a1a" stroke-width="1.3"/>
<line x1="174.15" y1="237.40" x2="174.15" y2="241.70" stroke="#111" stroke-width="1.15"/>
<line x1="171.55" y1="237.40" x2="176.75" y2="237.40" stroke="#111" stroke-width="1.1"/>
<line x1="171.55" y1="241.70" x2="176.75" y2="241.70" stroke="#111" stroke-width="1.1"/>
<line x1="190.30" y1="255.20" x2="190.30" y2="261.60" stroke="#111" stroke-width="1.15"/>
<line x1="187.70" y1="255.20" x2="192.90" y2="255.20" stroke="#111" stroke-width="1.1"/>
<line x1="187.70" y1="261.60" x2="192.90" y2="261.60" stroke="#111" stroke-width="1.1"/>
<line x1="205.80" y1="222.30" x2="205.80" y2="226.20" stroke="#111" stroke-width="1.15"/>
<line x1="203.20" y1="222.30" x2="208.40" y2="222.30" stroke="#111" stroke-width="1.1"/>
<line x1="203.20" y1="226.20" x2="208.40" y2="226.20" stroke="#111" stroke-width="1.1"/>
<line x1="221.55" y1="257.20" x2="221.55" y2="262.00" stroke="#111" stroke-width="1.15"/>
<line x1="218.95" y1="257.20" x2="224.15" y2="257.20" stroke="#111" stroke-width="1.1"/>
<line x1="218.95" y1="262.00" x2="224.15" y2="262.00" stroke="#111" stroke-width="1.1"/>
<circle cx="172.20" cy="234.40" r="1.7" fill="#12327a" stroke="#fff" stroke-width="0.5" stroke-opacity="0.55"/>
<circle cx="170.90" cy="238.40" r="1.7" fill="#12327a" stroke="#fff" stroke-width="0.5" stroke-opacity="0.55"/>
<circle cx="176.80" cy="237.80" r="1.7" fill="#12327a" stroke="#fff" stroke-width="0.5" stroke-opacity="0.55"/>
<circle cx="174.40" cy="240.60" r="1.7" fill="#12327a" stroke="#fff" stroke-width="0.5" stroke-opacity="0.55"/>
<circle cx="177.70" cy="243.10" r="1.7" fill="#12327a" stroke="#fff" stroke-width="0.5" stroke-opacity="0.55"/>
<circle cx="174.00" cy="242.30" r="1.7" fill="#12327a" stroke="#fff" stroke-width="0.5" stroke-opacity="0.55"/>
<circle cx="190.40" cy="249.50" r="1.7" fill="#12327a" stroke="#fff" stroke-width="0.5" stroke-opacity="0.55"/>
<circle cx="187.90" cy="254.10" r="1.7" fill="#12327a" stroke="#fff" stroke-width="0.5" stroke-opacity="0.55"/>
<circle cx="192.50" cy="258.10" r="1.7" fill="#12327a" stroke="#fff" stroke-width="0.5" stroke-opacity="0.55"/>
<circle cx="187.90" cy="264.60" r="1.7" fill="#12327a" stroke="#fff" stroke-width="0.5" stroke-opacity="0.55"/>
<circle cx="192.10" cy="264.60" r="1.7" fill="#12327a" stroke="#fff" stroke-width="0.5" stroke-opacity="0.55"/>
<circle cx="206.00" cy="220.50" r="1.7" fill="#b50c28" stroke="#fff" stroke-width="0.5" stroke-opacity="0.55"/>
<circle cx="203.50" cy="224.20" r="1.7" fill="#b50c28" stroke="#fff" stroke-width="0.5" stroke-opacity="0.55"/>
<circle cx="207.80" cy="223.40" r="1.7" fill="#b50c28" stroke="#fff" stroke-width="0.5" stroke-opacity="0.55"/>
<circle cx="205.10" cy="226.30" r="1.7" fill="#b50c28" stroke="#fff" stroke-width="0.5" stroke-opacity="0.55"/>
<circle cx="206.60" cy="222.40" r="1.7" fill="#b50c28" stroke="#fff" stroke-width="0.5" stroke-opacity="0.55"/>
<circle cx="221.40" cy="253.40" r="1.7" fill="#b50c28" stroke="#fff" stroke-width="0.5" stroke-opacity="0.55"/>
<circle cx="218.70" cy="259.10" r="1.7" fill="#b50c28" stroke="#fff" stroke-width="0.5" stroke-opacity="0.55"/>
<circle cx="222.60" cy="261.80" r="1.7" fill="#b50c28" stroke="#fff" stroke-width="0.5" stroke-opacity="0.55"/>
<circle cx="225.10" cy="261.80" r="1.7" fill="#b50c28" stroke="#fff" stroke-width="0.5" stroke-opacity="0.55"/>
<line x1="160.90" y1="195.70" x2="164.10" y2="195.70" stroke="#1a1a1a" stroke-width="1.1"/>
<text x="158.10" y="198.60" font-size="8.2" text-anchor="end" fill="#1a1a1a" font-weight="normal" textLength="13.27" lengthAdjust="spacingAndGlyphs" stroke="#1a1a1a" stroke-width="0.16">150</text>
<line x1="160.90" y1="219.30" x2="164.10" y2="219.30" stroke="#1a1a1a" stroke-width="1.1"/>
<text x="158.10" y="222.20" font-size="8.2" text-anchor="end" fill="#1a1a1a" font-weight="normal" textLength="13.27" lengthAdjust="spacingAndGlyphs" stroke="#1a1a1a" stroke-width="0.16">100</text>
<line x1="160.90" y1="242.20" x2="164.10" y2="242.20" stroke="#1a1a1a" stroke-width="1.1"/>
<text x="158.10" y="245.10" font-size="8.2" text-anchor="end" fill="#1a1a1a" font-weight="normal" textLength="8.84" lengthAdjust="spacingAndGlyphs" stroke="#1a1a1a" stroke-width="0.16">50</text>
<line x1="160.90" y1="265.30" x2="164.10" y2="265.30" stroke="#1a1a1a" stroke-width="1.1"/>
<text x="158.10" y="268.20" font-size="8.2" text-anchor="end" fill="#1a1a1a" font-weight="normal" textLength="4.42" lengthAdjust="spacingAndGlyphs" stroke="#1a1a1a" stroke-width="0.16">0</text>
<line x1="174.15" y1="265.40" x2="174.15" y2="269.00" stroke="#1a1a1a" stroke-width="1.0"/>
<line x1="190.30" y1="265.40" x2="190.30" y2="269.00" stroke="#1a1a1a" stroke-width="1.0"/>
<line x1="205.80" y1="265.40" x2="205.80" y2="269.00" stroke="#1a1a1a" stroke-width="1.0"/>
<line x1="221.55" y1="265.40" x2="221.55" y2="269.00" stroke="#1a1a1a" stroke-width="1.0"/>
<text transform="translate(139.00,229.50) rotate(-90)" font-size="9.8" text-anchor="middle" fill="#1a1a1a" stroke="#1a1a1a" stroke-width="0.16" textLength="38.20" lengthAdjust="spacingAndGlyphs">BAL % PMN</text>
<text x="171.30" y="184.50" font-size="10.4" text-anchor="start" fill="#1a1a1a" font-weight="normal" textLength="53.00" lengthAdjust="spacingAndGlyphs" stroke="#1a1a1a" stroke-width="0.16">% PMN-BAL</text>
<line x1="174.70" y1="201.70" x2="204.80" y2="201.70" stroke="#3c3c3c" stroke-width="1.15"/>
<line x1="174.70" y1="199.70" x2="174.70" y2="203.70" stroke="#3c3c3c" stroke-width="1.1"/>
<line x1="204.80" y1="199.70" x2="204.80" y2="203.70" stroke="#3c3c3c" stroke-width="1.1"/>
<path d="M184.12,197.70L184.12,196.10M184.12,197.70L185.65,197.21M184.12,197.70L185.07,198.99M184.12,197.70L183.18,198.99M184.12,197.70L182.60,197.21" stroke="#1e1e1e" stroke-width="1.1" fill="none"/>
<path d="M187.88,197.70L187.88,196.10M187.88,197.70L189.40,197.21M187.88,197.70L188.82,198.99M187.88,197.70L186.93,198.99M187.88,197.70L186.35,197.21" stroke="#1e1e1e" stroke-width="1.1" fill="none"/>
<path d="M191.62,197.70L191.62,196.10M191.62,197.70L193.15,197.21M191.62,197.70L192.57,198.99M191.62,197.70L190.68,198.99M191.62,197.70L190.10,197.21" stroke="#1e1e1e" stroke-width="1.1" fill="none"/>
<path d="M195.38,197.70L195.38,196.10M195.38,197.70L196.90,197.21M195.38,197.70L196.32,198.99M195.38,197.70L194.43,198.99M195.38,197.70L193.85,197.21" stroke="#1e1e1e" stroke-width="1.1" fill="none"/>
<line x1="174.70" y1="227.60" x2="191.60" y2="227.60" stroke="#3c3c3c" stroke-width="1.15"/>
<line x1="174.70" y1="225.60" x2="174.70" y2="229.60" stroke="#3c3c3c" stroke-width="1.1"/>
<line x1="191.60" y1="225.60" x2="191.60" y2="229.60" stroke="#3c3c3c" stroke-width="1.1"/>
<path d="M179.40,223.60L179.40,222.00M179.40,223.60L180.92,223.11M179.40,223.60L180.34,224.89M179.40,223.60L178.46,224.89M179.40,223.60L177.88,223.11" stroke="#1e1e1e" stroke-width="1.1" fill="none"/>
<path d="M183.15,223.60L183.15,222.00M183.15,223.60L184.67,223.11M183.15,223.60L184.09,224.89M183.15,223.60L182.21,224.89M183.15,223.60L181.63,223.11" stroke="#1e1e1e" stroke-width="1.1" fill="none"/>
<path d="M186.90,223.60L186.90,222.00M186.90,223.60L188.42,223.11M186.90,223.60L187.84,224.89M186.90,223.60L185.96,224.89M186.90,223.60L185.38,223.11" stroke="#1e1e1e" stroke-width="1.1" fill="none"/>
<line x1="205.70" y1="214.10" x2="223.40" y2="214.10" stroke="#3c3c3c" stroke-width="1.15"/>
<line x1="205.70" y1="212.10" x2="205.70" y2="216.10" stroke="#3c3c3c" stroke-width="1.1"/>
<line x1="223.40" y1="212.10" x2="223.40" y2="216.10" stroke="#3c3c3c" stroke-width="1.1"/>
<path d="M208.93,210.10L208.93,208.50M208.93,210.10L210.45,209.61M208.93,210.10L209.87,211.39M208.93,210.10L207.98,211.39M208.93,210.10L207.40,209.61" stroke="#1e1e1e" stroke-width="1.1" fill="none"/>
<path d="M212.68,210.10L212.68,208.50M212.68,210.10L214.20,209.61M212.68,210.10L213.62,211.39M212.68,210.10L211.73,211.39M212.68,210.10L211.15,209.61" stroke="#1e1e1e" stroke-width="1.1" fill="none"/>
<path d="M216.43,210.10L216.43,208.50M216.43,210.10L217.95,209.61M216.43,210.10L217.37,211.39M216.43,210.10L215.48,211.39M216.43,210.10L214.90,209.61" stroke="#1e1e1e" stroke-width="1.1" fill="none"/>
<path d="M220.18,210.10L220.18,208.50M220.18,210.10L221.70,209.61M220.18,210.10L221.12,211.39M220.18,210.10L219.23,211.39M220.18,210.10L218.65,209.61" stroke="#1e1e1e" stroke-width="1.1" fill="none"/>
<text transform="translate(177.45,274.80) rotate(-45)" font-size="8.0" text-anchor="end" fill="#1a1a1a" stroke="#1a1a1a" stroke-width="0.08">Iso</text>
<text transform="translate(193.60,274.80) rotate(-45)" font-size="8.0" text-anchor="end" fill="#1a1a1a" stroke="#1a1a1a" stroke-width="0.08">Ly6G</text>
<text transform="translate(209.10,274.80) rotate(-45)" font-size="8.0" text-anchor="end" fill="#1a1a1a" stroke="#1a1a1a" stroke-width="0.08">Iso</text>
<text transform="translate(224.85,274.80) rotate(-45)" font-size="8.0" text-anchor="end" fill="#1a1a1a" stroke="#1a1a1a" stroke-width="0.08">Ly6G</text>
<line x1="166.90" y1="292.50" x2="193.20" y2="292.50" stroke="#333333" stroke-width="1.15"/>
<line x1="198.20" y1="292.50" x2="224.50" y2="292.50" stroke="#333333" stroke-width="1.15"/>
<text x="173.70" y="301.90" font-size="8.4" text-anchor="start" fill="#1a1a1a" font-weight="normal" textLength="13.00" lengthAdjust="spacingAndGlyphs" stroke="#1a1a1a" stroke-width="0.16">WT</text>
<text x="202.60" y="301.90" font-size="8.4" text-anchor="start" fill="#1a1a1a" font-weight="normal" textLength="17.30" lengthAdjust="spacingAndGlyphs" stroke="#1a1a1a" stroke-width="0.16">CGD</text>
<rect x="283.40" y="261.00" width="10.20" height="4.30" fill="#c7cadd"/>
<rect x="299.30" y="264.30" width="10.00" height="1.00" fill="#c7cadd"/>
<rect x="315.00" y="231.00" width="10.00" height="34.30" fill="#e4c8bf"/>
<rect x="330.90" y="264.30" width="10.00" height="1.00" fill="#e4c8bf"/>
<line x1="278.20" y1="192.90" x2="278.20" y2="265.90" stroke="#1a1a1a" stroke-width="1.3"/>
<line x1="277.60" y1="265.30" x2="346.50" y2="265.30" stroke="#1a1a1a" stroke-width="1.3"/>
<line x1="288.50" y1="259.90" x2="288.50" y2="262.20" stroke="#111" stroke-width="1.15"/>
<line x1="285.90" y1="259.90" x2="291.10" y2="259.90" stroke="#111" stroke-width="1.1"/>
<line x1="285.90" y1="262.20" x2="291.10" y2="262.20" stroke="#111" stroke-width="1.1"/>
<line x1="304.30" y1="263.80" x2="304.30" y2="264.80" stroke="#111" stroke-width="1.15"/>
<line x1="301.70" y1="263.80" x2="306.90" y2="263.80" stroke="#111" stroke-width="1.1"/>
<line x1="301.70" y1="264.80" x2="306.90" y2="264.80" stroke="#111" stroke-width="1.1"/>
<line x1="320.00" y1="222.90" x2="320.00" y2="238.00" stroke="#111" stroke-width="1.15"/>
<line x1="317.40" y1="222.90" x2="322.60" y2="222.90" stroke="#111" stroke-width="1.1"/>
<line x1="317.40" y1="238.00" x2="322.60" y2="238.00" stroke="#111" stroke-width="1.1"/>
<line x1="335.90" y1="263.60" x2="335.90" y2="264.80" stroke="#111" stroke-width="1.15"/>
<line x1="333.30" y1="263.60" x2="338.50" y2="263.60" stroke="#111" stroke-width="1.1"/>
<line x1="333.30" y1="264.80" x2="338.50" y2="264.80" stroke="#111" stroke-width="1.1"/>
<circle cx="288.60" cy="256.80" r="1.7" fill="#12327a" stroke="#fff" stroke-width="0.5" stroke-opacity="0.55"/>
<circle cx="284.60" cy="260.00" r="1.7" fill="#12327a" stroke="#fff" stroke-width="0.5" stroke-opacity="0.55"/>
<circle cx="288.60" cy="261.20" r="1.7" fill="#12327a" stroke="#fff" stroke-width="0.5" stroke-opacity="0.55"/>
<circle cx="292.60" cy="263.10" r="1.7" fill="#12327a" stroke="#fff" stroke-width="0.5" stroke-opacity="0.55"/>
<circle cx="284.60" cy="263.40" r="1.7" fill="#12327a" stroke="#fff" stroke-width="0.5" stroke-opacity="0.55"/>
<circle cx="300.30" cy="265.20" r="1.7" fill="#12327a" stroke="#fff" stroke-width="0.5" stroke-opacity="0.55"/>
<circle cx="302.50" cy="264.00" r="1.7" fill="#12327a" stroke="#fff" stroke-width="0.5" stroke-opacity="0.55"/>
<circle cx="304.60" cy="264.60" r="1.7" fill="#12327a" stroke="#fff" stroke-width="0.5" stroke-opacity="0.55"/>
<circle cx="306.50" cy="264.30" r="1.7" fill="#12327a" stroke="#fff" stroke-width="0.5" stroke-opacity="0.55"/>
<circle cx="308.30" cy="265.50" r="1.7" fill="#12327a" stroke="#fff" stroke-width="0.5" stroke-opacity="0.55"/>
<circle cx="319.90" cy="201.00" r="1.7" fill="#b50c28" stroke="#fff" stroke-width="0.5" stroke-opacity="0.55"/>
<circle cx="316.50" cy="235.90" r="1.7" fill="#b50c28" stroke="#fff" stroke-width="0.5" stroke-opacity="0.55"/>
<circle cx="320.20" cy="235.60" r="1.7" fill="#b50c28" stroke="#fff" stroke-width="0.5" stroke-opacity="0.55"/>
<circle cx="324.30" cy="236.80" r="1.7" fill="#b50c28" stroke="#fff" stroke-width="0.5" stroke-opacity="0.55"/>
<circle cx="319.90" cy="243.70" r="1.7" fill="#b50c28" stroke="#fff" stroke-width="0.5" stroke-opacity="0.55"/>
<circle cx="331.80" cy="264.90" r="1.7" fill="#b50c28" stroke="#fff" stroke-width="0.5" stroke-opacity="0.55"/>
<circle cx="334.30" cy="263.30" r="1.7" fill="#b50c28" stroke="#fff" stroke-width="0.5" stroke-opacity="0.55"/>
<circle cx="337.10" cy="264.60" r="1.7" fill="#b50c28" stroke="#fff" stroke-width="0.5" stroke-opacity="0.55"/>
<circle cx="339.60" cy="264.90" r="1.7" fill="#b50c28" stroke="#fff" stroke-width="0.5" stroke-opacity="0.55"/>
<line x1="275.00" y1="195.50" x2="278.20" y2="195.50" stroke="#1a1a1a" stroke-width="1.1"/>
<text x="272.30" y="198.40" font-size="8.2" text-anchor="end" fill="#1a1a1a" font-weight="normal" textLength="13.27" lengthAdjust="spacingAndGlyphs" stroke="#1a1a1a" stroke-width="0.16">250</text>
<line x1="275.00" y1="209.30" x2="278.20" y2="209.30" stroke="#1a1a1a" stroke-width="1.1"/>
<text x="272.30" y="212.20" font-size="8.2" text-anchor="end" fill="#1a1a1a" font-weight="normal" textLength="13.27" lengthAdjust="spacingAndGlyphs" stroke="#1a1a1a" stroke-width="0.16">200</text>
<line x1="275.00" y1="223.40" x2="278.20" y2="223.40" stroke="#1a1a1a" stroke-width="1.1"/>
<text x="272.30" y="226.30" font-size="8.2" text-anchor="end" fill="#1a1a1a" font-weight="normal" textLength="13.27" lengthAdjust="spacingAndGlyphs" stroke="#1a1a1a" stroke-width="0.16">150</text>
<line x1="275.00" y1="237.40" x2="278.20" y2="237.40" stroke="#1a1a1a" stroke-width="1.1"/>
<text x="272.30" y="240.30" font-size="8.2" text-anchor="end" fill="#1a1a1a" font-weight="normal" textLength="13.27" lengthAdjust="spacingAndGlyphs" stroke="#1a1a1a" stroke-width="0.16">100</text>
<line x1="275.00" y1="251.30" x2="278.20" y2="251.30" stroke="#1a1a1a" stroke-width="1.1"/>
<text x="272.30" y="254.20" font-size="8.2" text-anchor="end" fill="#1a1a1a" font-weight="normal" textLength="8.84" lengthAdjust="spacingAndGlyphs" stroke="#1a1a1a" stroke-width="0.16">50</text>
<line x1="275.00" y1="265.30" x2="278.20" y2="265.30" stroke="#1a1a1a" stroke-width="1.1"/>
<text x="272.30" y="268.20" font-size="8.2" text-anchor="end" fill="#1a1a1a" font-weight="normal" textLength="4.42" lengthAdjust="spacingAndGlyphs" stroke="#1a1a1a" stroke-width="0.16">0</text>
<line x1="288.50" y1="265.30" x2="288.50" y2="268.90" stroke="#1a1a1a" stroke-width="1.0"/>
<line x1="304.30" y1="265.30" x2="304.30" y2="268.90" stroke="#1a1a1a" stroke-width="1.0"/>
<line x1="320.00" y1="265.30" x2="320.00" y2="268.90" stroke="#1a1a1a" stroke-width="1.0"/>
<line x1="335.90" y1="265.30" x2="335.90" y2="268.90" stroke="#1a1a1a" stroke-width="1.0"/>
<text transform="translate(252.30,228.20) rotate(-90)" font-size="9.8" text-anchor="middle" fill="#1a1a1a" stroke="#1a1a1a" stroke-width="0.16" textLength="79.90" lengthAdjust="spacingAndGlyphs">BAL PMN counts (X10<tspan font-size="5.8" dy="-3.4">4</tspan><tspan dy="3.4">)</tspan></text>
<text x="291.40" y="184.50" font-size="10.4" text-anchor="start" fill="#1a1a1a" font-weight="normal" textLength="41.60" lengthAdjust="spacingAndGlyphs" stroke="#1a1a1a" stroke-width="0.16">BAL PMN</text>
<line x1="286.60" y1="195.40" x2="320.60" y2="195.40" stroke="#3c3c3c" stroke-width="1.15"/>
<line x1="286.60" y1="193.40" x2="286.60" y2="197.40" stroke="#3c3c3c" stroke-width="1.1"/>
<line x1="320.60" y1="193.40" x2="320.60" y2="197.40" stroke="#3c3c3c" stroke-width="1.1"/>
<path d="M299.32,191.40L299.32,189.80M299.32,191.40L300.85,190.91M299.32,191.40L300.27,192.69M299.32,191.40L298.38,192.69M299.32,191.40L297.80,190.91" stroke="#1e1e1e" stroke-width="1.1" fill="none"/>
<path d="M303.07,191.40L303.07,189.80M303.07,191.40L304.60,190.91M303.07,191.40L304.02,192.69M303.07,191.40L302.13,192.69M303.07,191.40L301.55,190.91" stroke="#1e1e1e" stroke-width="1.1" fill="none"/>
<line x1="321.40" y1="195.40" x2="337.10" y2="195.40" stroke="#3c3c3c" stroke-width="1.15"/>
<line x1="321.40" y1="193.40" x2="321.40" y2="197.40" stroke="#3c3c3c" stroke-width="1.1"/>
<line x1="337.10" y1="193.40" x2="337.10" y2="197.40" stroke="#3c3c3c" stroke-width="1.1"/>
<path d="M327.43,191.40L327.43,189.80M327.43,191.40L328.95,190.91M327.43,191.40L328.37,192.69M327.43,191.40L326.48,192.69M327.43,191.40L325.90,190.91" stroke="#1e1e1e" stroke-width="1.1" fill="none"/>
<path d="M331.18,191.40L331.18,189.80M331.18,191.40L332.70,190.91M331.18,191.40L332.12,192.69M331.18,191.40L330.23,192.69M331.18,191.40L329.65,190.91" stroke="#1e1e1e" stroke-width="1.1" fill="none"/>
<line x1="287.00" y1="248.50" x2="304.10" y2="248.50" stroke="#3c3c3c" stroke-width="1.15"/>
<line x1="287.00" y1="246.50" x2="287.00" y2="250.50" stroke="#3c3c3c" stroke-width="1.1"/>
<line x1="304.10" y1="246.50" x2="304.10" y2="250.50" stroke="#3c3c3c" stroke-width="1.1"/>
<path d="M295.55,244.50L295.55,242.90M295.55,244.50L297.07,244.01M295.55,244.50L296.49,245.79M295.55,244.50L294.61,245.79M295.55,244.50L294.03,244.01" stroke="#1e1e1e" stroke-width="1.1" fill="none"/>
<text transform="translate(291.80,274.70) rotate(-45)" font-size="8.0" text-anchor="end" fill="#1a1a1a" stroke="#1a1a1a" stroke-width="0.08">Iso</text>
<text transform="translate(307.60,274.70) rotate(-45)" font-size="8.0" text-anchor="end" fill="#1a1a1a" stroke="#1a1a1a" stroke-width="0.08">Ly6G</text>
<text transform="translate(323.30,274.70) rotate(-45)" font-size="8.0" text-anchor="end" fill="#1a1a1a" stroke="#1a1a1a" stroke-width="0.08">Iso</text>
<text transform="translate(339.20,274.70) rotate(-45)" font-size="8.0" text-anchor="end" fill="#1a1a1a" stroke="#1a1a1a" stroke-width="0.08">Ly6G</text>
<line x1="280.80" y1="291.80" x2="307.40" y2="291.80" stroke="#333333" stroke-width="1.15"/>
<line x1="312.30" y1="291.80" x2="338.50" y2="291.80" stroke="#333333" stroke-width="1.15"/>
<text x="288.50" y="302.00" font-size="8.4" text-anchor="start" fill="#1a1a1a" font-weight="normal" textLength="12.30" lengthAdjust="spacingAndGlyphs" stroke="#1a1a1a" stroke-width="0.16">WT</text>
<text x="316.90" y="302.00" font-size="8.4" text-anchor="start" fill="#1a1a1a" font-weight="normal" textLength="17.70" lengthAdjust="spacingAndGlyphs" stroke="#1a1a1a" stroke-width="0.16">CGD</text>
<rect x="404.10" y="250.50" width="10.70" height="14.80" fill="#c7cadd"/>
<rect x="419.90" y="257.20" width="10.50" height="8.10" fill="#c7cadd"/>
<rect x="435.50" y="236.30" width="10.50" height="29.00" fill="#e4c8bf"/>
<rect x="451.70" y="248.00" width="10.40" height="17.30" fill="#e4c8bf"/>
<line x1="399.20" y1="193.20" x2="399.20" y2="265.90" stroke="#1a1a1a" stroke-width="1.3"/>
<line x1="398.60" y1="265.30" x2="467.50" y2="265.30" stroke="#1a1a1a" stroke-width="1.3"/>
<line x1="409.45" y1="241.30" x2="409.45" y2="259.10" stroke="#111" stroke-width="1.15"/>
<line x1="406.85" y1="241.30" x2="412.05" y2="241.30" stroke="#111" stroke-width="1.1"/>
<line x1="406.85" y1="259.10" x2="412.05" y2="259.10" stroke="#111" stroke-width="1.1"/>
<line x1="425.15" y1="255.00" x2="425.15" y2="259.60" stroke="#111" stroke-width="1.15"/>
<line x1="422.55" y1="255.00" x2="427.75" y2="255.00" stroke="#111" stroke-width="1.1"/>
<line x1="422.55" y1="259.60" x2="427.75" y2="259.60" stroke="#111" stroke-width="1.1"/>
<line x1="440.75" y1="226.90" x2="440.75" y2="244.80" stroke="#111" stroke-width="1.15"/>
<line x1="438.15" y1="226.90" x2="443.35" y2="226.90" stroke="#111" stroke-width="1.1"/>
<line x1="438.15" y1="244.80" x2="443.35" y2="244.80" stroke="#111" stroke-width="1.1"/>
<line x1="456.90" y1="240.00" x2="456.90" y2="255.40" stroke="#111" stroke-width="1.15"/>
<line x1="454.30" y1="240.00" x2="459.50" y2="240.00" stroke="#111" stroke-width="1.1"/>
<line x1="454.30" y1="255.40" x2="459.50" y2="255.40" stroke="#111" stroke-width="1.1"/>
<circle cx="409.00" cy="223.20" r="1.7" fill="#12327a" stroke="#fff" stroke-width="0.5" stroke-opacity="0.55"/>
<circle cx="406.50" cy="259.10" r="1.7" fill="#12327a" stroke="#fff" stroke-width="0.5" stroke-opacity="0.55"/>
<circle cx="409.50" cy="259.60" r="1.7" fill="#12327a" stroke="#fff" stroke-width="0.5" stroke-opacity="0.55"/>
<circle cx="412.50" cy="259.60" r="1.7" fill="#12327a" stroke="#fff" stroke-width="0.5" stroke-opacity="0.55"/>
<circle cx="425.10" cy="253.40" r="1.7" fill="#12327a" stroke="#fff" stroke-width="0.5" stroke-opacity="0.55"/>
<circle cx="423.10" cy="256.70" r="1.7" fill="#12327a" stroke="#fff" stroke-width="0.5" stroke-opacity="0.55"/>
<circle cx="426.90" cy="257.20" r="1.7" fill="#12327a" stroke="#fff" stroke-width="0.5" stroke-opacity="0.55"/>
<circle cx="424.40" cy="260.40" r="1.7" fill="#12327a" stroke="#fff" stroke-width="0.5" stroke-opacity="0.55"/>
<circle cx="441.00" cy="202.30" r="1.7" fill="#b50c28" stroke="#fff" stroke-width="0.5" stroke-opacity="0.55"/>
<circle cx="441.00" cy="233.00" r="1.7" fill="#b50c28" stroke="#fff" stroke-width="0.5" stroke-opacity="0.55"/>
<circle cx="441.00" cy="241.80" r="1.7" fill="#b50c28" stroke="#fff" stroke-width="0.5" stroke-opacity="0.55"/>
<circle cx="438.60" cy="251.90" r="1.7" fill="#b50c28" stroke="#fff" stroke-width="0.5" stroke-opacity="0.55"/>
<circle cx="443.10" cy="249.90" r="1.7" fill="#b50c28" stroke="#fff" stroke-width="0.5" stroke-opacity="0.55"/>
<circle cx="456.60" cy="224.40" r="1.7" fill="#b50c28" stroke="#fff" stroke-width="0.5" stroke-opacity="0.55"/>
<circle cx="457.10" cy="250.50" r="1.7" fill="#b50c28" stroke="#fff" stroke-width="0.5" stroke-opacity="0.55"/>
<circle cx="454.10" cy="257.20" r="1.7" fill="#b50c28" stroke="#fff" stroke-width="0.5" stroke-opacity="0.55"/>
<circle cx="458.60" cy="257.20" r="1.7" fill="#b50c28" stroke="#fff" stroke-width="0.5" stroke-opacity="0.55"/>
<line x1="396.00" y1="195.80" x2="399.20" y2="195.80" stroke="#1a1a1a" stroke-width="1.1"/>
<text x="393.30" y="198.70" font-size="8.2" text-anchor="end" fill="#1a1a1a" font-weight="normal" textLength="13.27" lengthAdjust="spacingAndGlyphs" stroke="#1a1a1a" stroke-width="0.16">100</text>
<line x1="396.00" y1="230.60" x2="399.20" y2="230.60" stroke="#1a1a1a" stroke-width="1.1"/>
<text x="393.30" y="233.50" font-size="8.2" text-anchor="end" fill="#1a1a1a" font-weight="normal" textLength="8.84" lengthAdjust="spacingAndGlyphs" stroke="#1a1a1a" stroke-width="0.16">50</text>
<line x1="396.00" y1="265.30" x2="399.20" y2="265.30" stroke="#1a1a1a" stroke-width="1.1"/>
<text x="393.30" y="268.20" font-size="8.2" text-anchor="end" fill="#1a1a1a" font-weight="normal" textLength="4.42" lengthAdjust="spacingAndGlyphs" stroke="#1a1a1a" stroke-width="0.16">0</text>
<line x1="397.40" y1="199.28" x2="399.20" y2="199.28" stroke="#1a1a1a" stroke-width="0.8"/>
<line x1="397.40" y1="202.76" x2="399.20" y2="202.76" stroke="#1a1a1a" stroke-width="0.8"/>
<line x1="397.40" y1="206.24" x2="399.20" y2="206.24" stroke="#1a1a1a" stroke-width="0.8"/>
<line x1="397.40" y1="209.72" x2="399.20" y2="209.72" stroke="#1a1a1a" stroke-width="0.8"/>
<line x1="397.40" y1="213.20" x2="399.20" y2="213.20" stroke="#1a1a1a" stroke-width="0.8"/>
<line x1="397.40" y1="216.68" x2="399.20" y2="216.68" stroke="#1a1a1a" stroke-width="0.8"/>
<line x1="397.40" y1="220.16" x2="399.20" y2="220.16" stroke="#1a1a1a" stroke-width="0.8"/>
<line x1="397.40" y1="223.64" x2="399.20" y2="223.64" stroke="#1a1a1a" stroke-width="0.8"/>
<line x1="397.40" y1="227.12" x2="399.20" y2="227.12" stroke="#1a1a1a" stroke-width="0.8"/>
<line x1="397.40" y1="234.07" x2="399.20" y2="234.07" stroke="#1a1a1a" stroke-width="0.8"/>
<line x1="397.40" y1="237.54" x2="399.20" y2="237.54" stroke="#1a1a1a" stroke-width="0.8"/>
<line x1="397.40" y1="241.01" x2="399.20" y2="241.01" stroke="#1a1a1a" stroke-width="0.8"/>
<line x1="397.40" y1="244.48" x2="399.20" y2="244.48" stroke="#1a1a1a" stroke-width="0.8"/>
<line x1="397.40" y1="247.95" x2="399.20" y2="247.95" stroke="#1a1a1a" stroke-width="0.8"/>
<line x1="397.40" y1="251.42" x2="399.20" y2="251.42" stroke="#1a1a1a" stroke-width="0.8"/>
<line x1="397.40" y1="254.89" x2="399.20" y2="254.89" stroke="#1a1a1a" stroke-width="0.8"/>
<line x1="397.40" y1="258.36" x2="399.20" y2="258.36" stroke="#1a1a1a" stroke-width="0.8"/>
<line x1="397.40" y1="261.83" x2="399.20" y2="261.83" stroke="#1a1a1a" stroke-width="0.8"/>
<line x1="409.45" y1="265.30" x2="409.45" y2="268.90" stroke="#1a1a1a" stroke-width="1.0"/>
<line x1="425.15" y1="265.30" x2="425.15" y2="268.90" stroke="#1a1a1a" stroke-width="1.0"/>
<line x1="440.75" y1="265.30" x2="440.75" y2="268.90" stroke="#1a1a1a" stroke-width="1.0"/>
<line x1="456.90" y1="265.30" x2="456.90" y2="268.90" stroke="#1a1a1a" stroke-width="1.0"/>
<text transform="translate(373.40,228.40) rotate(-90)" font-size="9.8" text-anchor="middle" fill="#1a1a1a" stroke="#1a1a1a" stroke-width="0.16" textLength="56.10" lengthAdjust="spacingAndGlyphs">BAL LTB4 (pg/ml)</text>
<text x="412.00" y="183.70" font-size="10.4" text-anchor="start" fill="#1a1a1a" font-weight="normal" textLength="41.60" lengthAdjust="spacingAndGlyphs" stroke="#1a1a1a" stroke-width="0.16">BAL LTB4</text>
<text transform="translate(412.75,274.70) rotate(-45)" font-size="8.0" text-anchor="end" fill="#1a1a1a" stroke="#1a1a1a" stroke-width="0.08">Iso</text>
<text transform="translate(428.45,274.70) rotate(-45)" font-size="8.0" text-anchor="end" fill="#1a1a1a" stroke="#1a1a1a" stroke-width="0.08">Ly6G</text>
<text transform="translate(444.05,274.70) rotate(-45)" font-size="8.0" text-anchor="end" fill="#1a1a1a" stroke="#1a1a1a" stroke-width="0.08">Iso</text>
<text transform="translate(460.20,274.70) rotate(-45)" font-size="8.0" text-anchor="end" fill="#1a1a1a" stroke="#1a1a1a" stroke-width="0.08">Ly6G</text>
<line x1="401.70" y1="291.90" x2="428.10" y2="291.90" stroke="#333333" stroke-width="1.15"/>
<line x1="433.50" y1="291.90" x2="459.40" y2="291.90" stroke="#333333" stroke-width="1.15"/>
<text x="408.80" y="301.90" font-size="8.4" text-anchor="start" fill="#1a1a1a" font-weight="normal" textLength="12.20" lengthAdjust="spacingAndGlyphs" stroke="#1a1a1a" stroke-width="0.16">WT</text>
<text x="437.30" y="301.90" font-size="8.4" text-anchor="start" fill="#1a1a1a" font-weight="normal" textLength="17.70" lengthAdjust="spacingAndGlyphs" stroke="#1a1a1a" stroke-width="0.16">CGD</text>
<rect x="58.10" y="389.70" width="11.00" height="28.50" fill="#c7cadd"/>
<rect x="74.10" y="391.60" width="10.70" height="26.60" fill="#c7cadd"/>
<rect x="89.30" y="369.40" width="11.00" height="48.80" fill="#e4c8bf"/>
<rect x="105.40" y="392.10" width="10.60" height="26.10" fill="#e4c8bf"/>
<line x1="53.10" y1="346.00" x2="53.10" y2="418.80" stroke="#1a1a1a" stroke-width="1.3"/>
<line x1="52.50" y1="418.20" x2="118.20" y2="418.20" stroke="#1a1a1a" stroke-width="1.3"/>
<line x1="63.60" y1="384.90" x2="63.60" y2="393.40" stroke="#111" stroke-width="1.15"/>
<line x1="61.00" y1="384.90" x2="66.20" y2="384.90" stroke="#111" stroke-width="1.1"/>
<line x1="61.00" y1="393.40" x2="66.20" y2="393.40" stroke="#111" stroke-width="1.1"/>
<line x1="79.45" y1="387.60" x2="79.45" y2="395.00" stroke="#111" stroke-width="1.15"/>
<line x1="76.85" y1="387.60" x2="82.05" y2="387.60" stroke="#111" stroke-width="1.1"/>
<line x1="76.85" y1="395.00" x2="82.05" y2="395.00" stroke="#111" stroke-width="1.1"/>
<line x1="94.80" y1="364.60" x2="94.80" y2="374.00" stroke="#111" stroke-width="1.15"/>
<line x1="92.20" y1="364.60" x2="97.40" y2="364.60" stroke="#111" stroke-width="1.1"/>
<line x1="92.20" y1="374.00" x2="97.40" y2="374.00" stroke="#111" stroke-width="1.1"/>
<line x1="110.70" y1="388.90" x2="110.70" y2="397.00" stroke="#111" stroke-width="1.15"/>
<line x1="108.10" y1="388.90" x2="113.30" y2="388.90" stroke="#111" stroke-width="1.1"/>
<line x1="108.10" y1="397.00" x2="113.30" y2="397.00" stroke="#111" stroke-width="1.1"/>
<circle cx="63.30" cy="372.00" r="1.7" fill="#12327a" stroke="#fff" stroke-width="0.5" stroke-opacity="0.55"/>
<circle cx="60.30" cy="393.60" r="1.7" fill="#12327a" stroke="#fff" stroke-width="0.5" stroke-opacity="0.55"/>
<circle cx="66.30" cy="393.60" r="1.7" fill="#12327a" stroke="#fff" stroke-width="0.5" stroke-opacity="0.55"/>
<circle cx="63.20" cy="390.60" r="1.7" fill="#12327a" stroke="#fff" stroke-width="0.5" stroke-opacity="0.55"/>
<circle cx="63.20" cy="397.70" r="1.7" fill="#12327a" stroke="#fff" stroke-width="0.5" stroke-opacity="0.55"/>
<circle cx="78.90" cy="382.80" r="1.7" fill="#12327a" stroke="#fff" stroke-width="0.5" stroke-opacity="0.55"/>
<circle cx="79.00" cy="387.60" r="1.7" fill="#12327a" stroke="#fff" stroke-width="0.5" stroke-opacity="0.55"/>
<circle cx="76.60" cy="392.60" r="1.7" fill="#12327a" stroke="#fff" stroke-width="0.5" stroke-opacity="0.55"/>
<circle cx="81.30" cy="393.60" r="1.7" fill="#12327a" stroke="#fff" stroke-width="0.5" stroke-opacity="0.55"/>
<circle cx="78.90" cy="399.30" r="1.7" fill="#12327a" stroke="#fff" stroke-width="0.5" stroke-opacity="0.55"/>
<circle cx="92.00" cy="359.20" r="1.7" fill="#b50c28" stroke="#fff" stroke-width="0.5" stroke-opacity="0.55"/>
<circle cx="97.30" cy="359.20" r="1.7" fill="#b50c28" stroke="#fff" stroke-width="0.5" stroke-opacity="0.55"/>
<circle cx="92.30" cy="372.60" r="1.7" fill="#b50c28" stroke="#fff" stroke-width="0.5" stroke-opacity="0.55"/>
<circle cx="96.80" cy="372.60" r="1.7" fill="#b50c28" stroke="#fff" stroke-width="0.5" stroke-opacity="0.55"/>
<circle cx="94.70" cy="383.60" r="1.7" fill="#b50c28" stroke="#fff" stroke-width="0.5" stroke-opacity="0.55"/>
<circle cx="110.20" cy="383.30" r="1.7" fill="#b50c28" stroke="#fff" stroke-width="0.5" stroke-opacity="0.55"/>
<circle cx="110.30" cy="390.00" r="1.7" fill="#b50c28" stroke="#fff" stroke-width="0.5" stroke-opacity="0.55"/>
<circle cx="108.00" cy="397.50" r="1.7" fill="#b50c28" stroke="#fff" stroke-width="0.5" stroke-opacity="0.55"/>
<circle cx="112.30" cy="396.10" r="1.7" fill="#b50c28" stroke="#fff" stroke-width="0.5" stroke-opacity="0.55"/>
<line x1="49.90" y1="348.60" x2="53.10" y2="348.60" stroke="#1a1a1a" stroke-width="1.1"/>
<text x="47.10" y="351.50" font-size="8.2" text-anchor="end" fill="#1a1a1a" font-weight="normal" textLength="13.27" lengthAdjust="spacingAndGlyphs" stroke="#1a1a1a" stroke-width="0.16">600</text>
<line x1="49.90" y1="372.10" x2="53.10" y2="372.10" stroke="#1a1a1a" stroke-width="1.1"/>
<text x="47.10" y="375.00" font-size="8.2" text-anchor="end" fill="#1a1a1a" font-weight="normal" textLength="13.27" lengthAdjust="spacingAndGlyphs" stroke="#1a1a1a" stroke-width="0.16">400</text>
<line x1="49.90" y1="395.30" x2="53.10" y2="395.30" stroke="#1a1a1a" stroke-width="1.1"/>
<text x="47.10" y="398.20" font-size="8.2" text-anchor="end" fill="#1a1a1a" font-weight="normal" textLength="13.27" lengthAdjust="spacingAndGlyphs" stroke="#1a1a1a" stroke-width="0.16">200</text>
<line x1="49.90" y1="418.00" x2="53.10" y2="418.00" stroke="#1a1a1a" stroke-width="1.1"/>
<text x="47.10" y="420.90" font-size="8.2" text-anchor="end" fill="#1a1a1a" font-weight="normal" textLength="4.42" lengthAdjust="spacingAndGlyphs" stroke="#1a1a1a" stroke-width="0.16">0</text>
<line x1="63.60" y1="418.20" x2="63.60" y2="421.80" stroke="#1a1a1a" stroke-width="1.0"/>
<line x1="79.45" y1="418.20" x2="79.45" y2="421.80" stroke="#1a1a1a" stroke-width="1.0"/>
<line x1="94.80" y1="418.20" x2="94.80" y2="421.80" stroke="#1a1a1a" stroke-width="1.0"/>
<line x1="110.70" y1="418.20" x2="110.70" y2="421.80" stroke="#1a1a1a" stroke-width="1.0"/>
<text transform="translate(27.80,381.70) rotate(-90)" font-size="9.8" text-anchor="middle" fill="#1a1a1a" stroke="#1a1a1a" stroke-width="0.16" textLength="104.30" lengthAdjust="spacingAndGlyphs">Lung CD45<tspan font-size="5.8" dy="-3.4">+</tspan><tspan dy="3.4"> cell counts (X10</tspan><tspan font-size="5.8" dy="-3.4">4</tspan><tspan dy="3.4">)</tspan></text>
<text x="47.50" y="337.00" font-size="10.4" text-anchor="start" fill="#1a1a1a" font-weight="normal" textLength="78.70" lengthAdjust="spacingAndGlyphs" stroke="#1a1a1a" stroke-width="0.16">Lung CD45+ Cells</text>
<line x1="60.70" y1="351.50" x2="96.40" y2="351.50" stroke="#3c3c3c" stroke-width="1.15"/>
<line x1="60.70" y1="349.50" x2="60.70" y2="353.50" stroke="#3c3c3c" stroke-width="1.1"/>
<line x1="96.40" y1="349.50" x2="96.40" y2="353.50" stroke="#3c3c3c" stroke-width="1.1"/>
<path d="M79.40,347.50L79.40,345.90M79.40,347.50L80.92,347.01M79.40,347.50L80.34,348.79M79.40,347.50L78.46,348.79M79.40,347.50L77.88,347.01" stroke="#1e1e1e" stroke-width="1.1" fill="none"/>
<line x1="97.20" y1="351.50" x2="112.30" y2="351.50" stroke="#3c3c3c" stroke-width="1.15"/>
<line x1="97.20" y1="349.50" x2="97.20" y2="353.50" stroke="#3c3c3c" stroke-width="1.1"/>
<line x1="112.30" y1="349.50" x2="112.30" y2="353.50" stroke="#3c3c3c" stroke-width="1.1"/>
<path d="M104.33,347.50L104.33,345.90M104.33,347.50L105.85,347.01M104.33,347.50L105.27,348.79M104.33,347.50L103.38,348.79M104.33,347.50L102.80,347.01" stroke="#1e1e1e" stroke-width="1.1" fill="none"/>
<path d="M108.08,347.50L108.08,345.90M108.08,347.50L109.60,347.01M108.08,347.50L109.02,348.79M108.08,347.50L107.13,348.79M108.08,347.50L106.55,347.01" stroke="#1e1e1e" stroke-width="1.1" fill="none"/>
<text transform="translate(66.90,427.60) rotate(-45)" font-size="8.0" text-anchor="end" fill="#1a1a1a" stroke="#1a1a1a" stroke-width="0.08">Iso</text>
<text transform="translate(82.75,427.60) rotate(-45)" font-size="8.0" text-anchor="end" fill="#1a1a1a" stroke="#1a1a1a" stroke-width="0.08">Ly6G</text>
<text transform="translate(98.10,427.60) rotate(-45)" font-size="8.0" text-anchor="end" fill="#1a1a1a" stroke="#1a1a1a" stroke-width="0.08">Iso</text>
<text transform="translate(114.00,427.60) rotate(-45)" font-size="8.0" text-anchor="end" fill="#1a1a1a" stroke="#1a1a1a" stroke-width="0.08">Ly6G</text>
<line x1="56.20" y1="444.90" x2="82.90" y2="444.90" stroke="#333333" stroke-width="1.15"/>
<line x1="87.50" y1="444.90" x2="113.40" y2="444.90" stroke="#333333" stroke-width="1.15"/>
<text x="62.10" y="454.40" font-size="8.4" text-anchor="start" fill="#1a1a1a" font-weight="normal" textLength="13.30" lengthAdjust="spacingAndGlyphs" stroke="#1a1a1a" stroke-width="0.16">WT</text>
<text x="92.80" y="454.40" font-size="8.4" text-anchor="start" fill="#1a1a1a" font-weight="normal" textLength="16.60" lengthAdjust="spacingAndGlyphs" stroke="#1a1a1a" stroke-width="0.16">CGD</text>
<rect x="172.20" y="384.30" width="10.60" height="33.90" fill="#c7cadd"/>
<rect x="188.20" y="406.30" width="10.30" height="11.90" fill="#c7cadd"/>
<rect x="204.10" y="364.20" width="10.30" height="54.00" fill="#e4c8bf"/>
<rect x="219.80" y="408.40" width="10.10" height="9.80" fill="#e4c8bf"/>
<line x1="167.30" y1="345.40" x2="167.30" y2="418.80" stroke="#1a1a1a" stroke-width="1.3"/>
<line x1="166.70" y1="418.20" x2="235.40" y2="418.20" stroke="#1a1a1a" stroke-width="1.3"/>
<line x1="177.50" y1="381.50" x2="177.50" y2="387.30" stroke="#111" stroke-width="1.15"/>
<line x1="174.90" y1="381.50" x2="180.10" y2="381.50" stroke="#111" stroke-width="1.1"/>
<line x1="174.90" y1="387.30" x2="180.10" y2="387.30" stroke="#111" stroke-width="1.1"/>
<line x1="193.35" y1="403.70" x2="193.35" y2="408.50" stroke="#111" stroke-width="1.15"/>
<line x1="190.75" y1="403.70" x2="195.95" y2="403.70" stroke="#111" stroke-width="1.1"/>
<line x1="190.75" y1="408.50" x2="195.95" y2="408.50" stroke="#111" stroke-width="1.1"/>
<line x1="209.25" y1="359.50" x2="209.25" y2="367.00" stroke="#111" stroke-width="1.15"/>
<line x1="206.65" y1="359.50" x2="211.85" y2="359.50" stroke="#111" stroke-width="1.1"/>
<line x1="206.65" y1="367.00" x2="211.85" y2="367.00" stroke="#111" stroke-width="1.1"/>
<line x1="224.85" y1="406.50" x2="224.85" y2="409.60" stroke="#111" stroke-width="1.15"/>
<line x1="222.25" y1="406.50" x2="227.45" y2="406.50" stroke="#111" stroke-width="1.1"/>
<line x1="222.25" y1="409.60" x2="227.45" y2="409.60" stroke="#111" stroke-width="1.1"/>
<circle cx="173.80" cy="380.00" r="1.7" fill="#12327a" stroke="#fff" stroke-width="0.5" stroke-opacity="0.55"/>
<circle cx="181.30" cy="378.20" r="1.7" fill="#12327a" stroke="#fff" stroke-width="0.5" stroke-opacity="0.55"/>
<circle cx="177.50" cy="383.60" r="1.7" fill="#12327a" stroke="#fff" stroke-width="0.5" stroke-opacity="0.55"/>
<circle cx="177.50" cy="392.70" r="1.7" fill="#12327a" stroke="#fff" stroke-width="0.5" stroke-opacity="0.55"/>
<circle cx="192.60" cy="398.70" r="1.7" fill="#12327a" stroke="#fff" stroke-width="0.5" stroke-opacity="0.55"/>
<circle cx="190.00" cy="406.30" r="1.7" fill="#12327a" stroke="#fff" stroke-width="0.5" stroke-opacity="0.55"/>
<circle cx="192.60" cy="407.40" r="1.7" fill="#12327a" stroke="#fff" stroke-width="0.5" stroke-opacity="0.55"/>
<circle cx="195.40" cy="407.40" r="1.7" fill="#12327a" stroke="#fff" stroke-width="0.5" stroke-opacity="0.55"/>
<circle cx="198.00" cy="406.30" r="1.7" fill="#12327a" stroke="#fff" stroke-width="0.5" stroke-opacity="0.55"/>
<circle cx="209.40" cy="353.40" r="1.7" fill="#b50c28" stroke="#fff" stroke-width="0.5" stroke-opacity="0.55"/>
<circle cx="209.40" cy="359.50" r="1.7" fill="#b50c28" stroke="#fff" stroke-width="0.5" stroke-opacity="0.55"/>
<circle cx="207.70" cy="365.30" r="1.7" fill="#b50c28" stroke="#fff" stroke-width="0.5" stroke-opacity="0.55"/>
<circle cx="213.00" cy="365.70" r="1.7" fill="#b50c28" stroke="#fff" stroke-width="0.5" stroke-opacity="0.55"/>
<circle cx="209.40" cy="374.40" r="1.7" fill="#b50c28" stroke="#fff" stroke-width="0.5" stroke-opacity="0.55"/>
<circle cx="221.00" cy="405.00" r="1.7" fill="#b50c28" stroke="#fff" stroke-width="0.5" stroke-opacity="0.55"/>
<circle cx="224.90" cy="406.90" r="1.7" fill="#b50c28" stroke="#fff" stroke-width="0.5" stroke-opacity="0.55"/>
<circle cx="229.00" cy="406.30" r="1.7" fill="#b50c28" stroke="#fff" stroke-width="0.5" stroke-opacity="0.55"/>
<circle cx="224.90" cy="411.80" r="1.7" fill="#b50c28" stroke="#fff" stroke-width="0.5" stroke-opacity="0.55"/>
<line x1="164.10" y1="348.00" x2="167.30" y2="348.00" stroke="#1a1a1a" stroke-width="1.1"/>
<text x="161.20" y="350.90" font-size="8.2" text-anchor="end" fill="#1a1a1a" font-weight="normal" textLength="8.84" lengthAdjust="spacingAndGlyphs" stroke="#1a1a1a" stroke-width="0.16">40</text>
<line x1="164.10" y1="365.70" x2="167.30" y2="365.70" stroke="#1a1a1a" stroke-width="1.1"/>
<text x="161.20" y="368.60" font-size="8.2" text-anchor="end" fill="#1a1a1a" font-weight="normal" textLength="8.84" lengthAdjust="spacingAndGlyphs" stroke="#1a1a1a" stroke-width="0.16">30</text>
<line x1="164.10" y1="383.20" x2="167.30" y2="383.20" stroke="#1a1a1a" stroke-width="1.1"/>
<text x="161.20" y="386.10" font-size="8.2" text-anchor="end" fill="#1a1a1a" font-weight="normal" textLength="8.84" lengthAdjust="spacingAndGlyphs" stroke="#1a1a1a" stroke-width="0.16">20</text>
<line x1="164.10" y1="400.90" x2="167.30" y2="400.90" stroke="#1a1a1a" stroke-width="1.1"/>
<text x="161.20" y="403.80" font-size="8.2" text-anchor="end" fill="#1a1a1a" font-weight="normal" textLength="8.84" lengthAdjust="spacingAndGlyphs" stroke="#1a1a1a" stroke-width="0.16">10</text>
<line x1="164.10" y1="418.10" x2="167.30" y2="418.10" stroke="#1a1a1a" stroke-width="1.1"/>
<text x="161.20" y="421.00" font-size="8.2" text-anchor="end" fill="#1a1a1a" font-weight="normal" textLength="4.42" lengthAdjust="spacingAndGlyphs" stroke="#1a1a1a" stroke-width="0.16">0</text>
<line x1="177.50" y1="418.20" x2="177.50" y2="421.80" stroke="#1a1a1a" stroke-width="1.0"/>
<line x1="193.35" y1="418.20" x2="193.35" y2="421.80" stroke="#1a1a1a" stroke-width="1.0"/>
<line x1="209.25" y1="418.20" x2="209.25" y2="421.80" stroke="#1a1a1a" stroke-width="1.0"/>
<line x1="224.85" y1="418.20" x2="224.85" y2="421.80" stroke="#1a1a1a" stroke-width="1.0"/>
<text transform="translate(146.60,382.20) rotate(-90)" font-size="9.8" text-anchor="middle" fill="#1a1a1a" stroke="#1a1a1a" stroke-width="0.16" textLength="77.10" lengthAdjust="spacingAndGlyphs">% of PMN from CD45<tspan font-size="5.8" dy="-3.4">+</tspan></text>
<text x="172.50" y="336.80" font-size="10.4" text-anchor="start" fill="#1a1a1a" font-weight="normal" textLength="57.80" lengthAdjust="spacingAndGlyphs" stroke="#1a1a1a" stroke-width="0.16">% PMN-Lung</text>
<line x1="179.20" y1="349.80" x2="209.40" y2="349.80" stroke="#3c3c3c" stroke-width="1.15"/>
<line x1="179.20" y1="347.80" x2="179.20" y2="351.80" stroke="#3c3c3c" stroke-width="1.1"/>
<line x1="209.40" y1="347.80" x2="209.40" y2="351.80" stroke="#3c3c3c" stroke-width="1.1"/>
<path d="M193.22,345.80L193.22,344.20M193.22,345.80L194.75,345.31M193.22,345.80L194.17,347.09M193.22,345.80L192.28,347.09M193.22,345.80L191.70,345.31" stroke="#1e1e1e" stroke-width="1.1" fill="none"/>
<path d="M196.97,345.80L196.97,344.20M196.97,345.80L198.50,345.31M196.97,345.80L197.92,347.09M196.97,345.80L196.03,347.09M196.97,345.80L195.45,345.31" stroke="#1e1e1e" stroke-width="1.1" fill="none"/>
<line x1="210.20" y1="349.80" x2="228.60" y2="349.80" stroke="#3c3c3c" stroke-width="1.15"/>
<line x1="210.20" y1="347.80" x2="210.20" y2="351.80" stroke="#3c3c3c" stroke-width="1.1"/>
<line x1="228.60" y1="347.80" x2="228.60" y2="351.80" stroke="#3c3c3c" stroke-width="1.1"/>
<path d="M214.97,345.80L214.97,344.20M214.97,345.80L216.50,345.31M214.97,345.80L215.92,347.09M214.97,345.80L214.03,347.09M214.97,345.80L213.45,345.31" stroke="#1e1e1e" stroke-width="1.1" fill="none"/>
<path d="M218.72,345.80L218.72,344.20M218.72,345.80L220.25,345.31M218.72,345.80L219.67,347.09M218.72,345.80L217.78,347.09M218.72,345.80L217.20,345.31" stroke="#1e1e1e" stroke-width="1.1" fill="none"/>
<path d="M222.47,345.80L222.47,344.20M222.47,345.80L224.00,345.31M222.47,345.80L223.42,347.09M222.47,345.80L221.53,347.09M222.47,345.80L220.95,345.31" stroke="#1e1e1e" stroke-width="1.1" fill="none"/>
<path d="M226.22,345.80L226.22,344.20M226.22,345.80L227.75,345.31M226.22,345.80L227.17,347.09M226.22,345.80L225.28,347.09M226.22,345.80L224.70,345.31" stroke="#1e1e1e" stroke-width="1.1" fill="none"/>
<line x1="178.50" y1="374.40" x2="195.10" y2="374.40" stroke="#3c3c3c" stroke-width="1.15"/>
<line x1="178.50" y1="372.40" x2="178.50" y2="376.40" stroke="#3c3c3c" stroke-width="1.1"/>
<line x1="195.10" y1="372.40" x2="195.10" y2="376.40" stroke="#3c3c3c" stroke-width="1.1"/>
<path d="M183.05,370.40L183.05,368.80M183.05,370.40L184.57,369.91M183.05,370.40L183.99,371.69M183.05,370.40L182.11,371.69M183.05,370.40L181.53,369.91" stroke="#1e1e1e" stroke-width="1.1" fill="none"/>
<path d="M186.80,370.40L186.80,368.80M186.80,370.40L188.32,369.91M186.80,370.40L187.74,371.69M186.80,370.40L185.86,371.69M186.80,370.40L185.28,369.91" stroke="#1e1e1e" stroke-width="1.1" fill="none"/>
<path d="M190.55,370.40L190.55,368.80M190.55,370.40L192.07,369.91M190.55,370.40L191.49,371.69M190.55,370.40L189.61,371.69M190.55,370.40L189.03,369.91" stroke="#1e1e1e" stroke-width="1.1" fill="none"/>
<text transform="translate(180.80,427.60) rotate(-45)" font-size="8.0" text-anchor="end" fill="#1a1a1a" stroke="#1a1a1a" stroke-width="0.08">Iso</text>
<text transform="translate(196.65,427.60) rotate(-45)" font-size="8.0" text-anchor="end" fill="#1a1a1a" stroke="#1a1a1a" stroke-width="0.08">Ly6G</text>
<text transform="translate(212.55,427.60) rotate(-45)" font-size="8.0" text-anchor="end" fill="#1a1a1a" stroke="#1a1a1a" stroke-width="0.08">Iso</text>
<text transform="translate(228.15,427.60) rotate(-45)" font-size="8.0" text-anchor="end" fill="#1a1a1a" stroke="#1a1a1a" stroke-width="0.08">Ly6G</text>
<line x1="170.30" y1="445.10" x2="196.50" y2="445.10" stroke="#333333" stroke-width="1.15"/>
<line x1="201.20" y1="445.10" x2="227.70" y2="445.10" stroke="#333333" stroke-width="1.15"/>
<text x="177.40" y="454.60" font-size="8.4" text-anchor="start" fill="#1a1a1a" font-weight="normal" textLength="11.80" lengthAdjust="spacingAndGlyphs" stroke="#1a1a1a" stroke-width="0.16">WT</text>
<text x="205.70" y="454.60" font-size="8.4" text-anchor="start" fill="#1a1a1a" font-weight="normal" textLength="17.70" lengthAdjust="spacingAndGlyphs" stroke="#1a1a1a" stroke-width="0.16">CGD</text>
<rect x="287.00" y="402.00" width="10.00" height="16.20" fill="#c7cadd"/>
<rect x="302.80" y="412.80" width="10.00" height="5.40" fill="#c7cadd"/>
<rect x="318.60" y="372.40" width="9.70" height="45.80" fill="#e4c8bf"/>
<rect x="334.20" y="412.30" width="9.80" height="5.90" fill="#e4c8bf"/>
<line x1="281.50" y1="345.40" x2="281.50" y2="418.80" stroke="#1a1a1a" stroke-width="1.3"/>
<line x1="280.90" y1="418.20" x2="349.60" y2="418.20" stroke="#1a1a1a" stroke-width="1.3"/>
<line x1="292.00" y1="399.40" x2="292.00" y2="403.70" stroke="#111" stroke-width="1.15"/>
<line x1="289.40" y1="399.40" x2="294.60" y2="399.40" stroke="#111" stroke-width="1.1"/>
<line x1="289.40" y1="403.70" x2="294.60" y2="403.70" stroke="#111" stroke-width="1.1"/>
<line x1="307.80" y1="411.20" x2="307.80" y2="414.00" stroke="#111" stroke-width="1.15"/>
<line x1="305.20" y1="411.20" x2="310.40" y2="411.20" stroke="#111" stroke-width="1.1"/>
<line x1="305.20" y1="414.00" x2="310.40" y2="414.00" stroke="#111" stroke-width="1.1"/>
<line x1="323.45" y1="365.30" x2="323.45" y2="378.20" stroke="#111" stroke-width="1.15"/>
<line x1="320.85" y1="365.30" x2="326.05" y2="365.30" stroke="#111" stroke-width="1.1"/>
<line x1="320.85" y1="378.20" x2="326.05" y2="378.20" stroke="#111" stroke-width="1.1"/>
<line x1="339.10" y1="411.80" x2="339.10" y2="414.30" stroke="#111" stroke-width="1.15"/>
<line x1="336.50" y1="411.80" x2="341.70" y2="411.80" stroke="#111" stroke-width="1.1"/>
<line x1="336.50" y1="414.30" x2="341.70" y2="414.30" stroke="#111" stroke-width="1.1"/>
<circle cx="291.30" cy="392.90" r="1.7" fill="#12327a" stroke="#fff" stroke-width="0.5" stroke-opacity="0.55"/>
<circle cx="289.60" cy="400.20" r="1.7" fill="#12327a" stroke="#fff" stroke-width="0.5" stroke-opacity="0.55"/>
<circle cx="293.50" cy="401.50" r="1.7" fill="#12327a" stroke="#fff" stroke-width="0.5" stroke-opacity="0.55"/>
<circle cx="296.50" cy="403.00" r="1.7" fill="#12327a" stroke="#fff" stroke-width="0.5" stroke-opacity="0.55"/>
<circle cx="290.00" cy="407.40" r="1.7" fill="#12327a" stroke="#fff" stroke-width="0.5" stroke-opacity="0.55"/>
<circle cx="308.00" cy="408.00" r="1.7" fill="#12327a" stroke="#fff" stroke-width="0.5" stroke-opacity="0.55"/>
<circle cx="304.70" cy="412.80" r="1.7" fill="#12327a" stroke="#fff" stroke-width="0.5" stroke-opacity="0.55"/>
<circle cx="307.30" cy="413.80" r="1.7" fill="#12327a" stroke="#fff" stroke-width="0.5" stroke-opacity="0.55"/>
<circle cx="310.10" cy="412.30" r="1.7" fill="#12327a" stroke="#fff" stroke-width="0.5" stroke-opacity="0.55"/>
<circle cx="305.80" cy="414.90" r="1.7" fill="#12327a" stroke="#fff" stroke-width="0.5" stroke-opacity="0.55"/>
<circle cx="323.00" cy="352.40" r="1.7" fill="#b50c28" stroke="#fff" stroke-width="0.5" stroke-opacity="0.55"/>
<circle cx="323.00" cy="365.30" r="1.7" fill="#b50c28" stroke="#fff" stroke-width="0.5" stroke-opacity="0.55"/>
<circle cx="323.00" cy="371.10" r="1.7" fill="#b50c28" stroke="#fff" stroke-width="0.5" stroke-opacity="0.55"/>
<circle cx="323.70" cy="377.80" r="1.7" fill="#b50c28" stroke="#fff" stroke-width="0.5" stroke-opacity="0.55"/>
<circle cx="323.00" cy="392.30" r="1.7" fill="#b50c28" stroke="#fff" stroke-width="0.5" stroke-opacity="0.55"/>
<circle cx="338.90" cy="410.30" r="1.7" fill="#b50c28" stroke="#fff" stroke-width="0.5" stroke-opacity="0.55"/>
<circle cx="335.80" cy="412.70" r="1.7" fill="#b50c28" stroke="#fff" stroke-width="0.5" stroke-opacity="0.55"/>
<circle cx="342.20" cy="414.20" r="1.7" fill="#b50c28" stroke="#fff" stroke-width="0.5" stroke-opacity="0.55"/>
<circle cx="338.90" cy="415.80" r="1.7" fill="#b50c28" stroke="#fff" stroke-width="0.5" stroke-opacity="0.55"/>
<line x1="278.30" y1="348.00" x2="281.50" y2="348.00" stroke="#1a1a1a" stroke-width="1.1"/>
<text x="275.30" y="350.90" font-size="8.2" text-anchor="end" fill="#1a1a1a" font-weight="normal" textLength="13.27" lengthAdjust="spacingAndGlyphs" stroke="#1a1a1a" stroke-width="0.16">200</text>
<line x1="278.30" y1="366.00" x2="281.50" y2="366.00" stroke="#1a1a1a" stroke-width="1.1"/>
<text x="275.30" y="368.90" font-size="8.2" text-anchor="end" fill="#1a1a1a" font-weight="normal" textLength="13.27" lengthAdjust="spacingAndGlyphs" stroke="#1a1a1a" stroke-width="0.16">150</text>
<line x1="278.30" y1="383.60" x2="281.50" y2="383.60" stroke="#1a1a1a" stroke-width="1.1"/>
<text x="275.30" y="386.50" font-size="8.2" text-anchor="end" fill="#1a1a1a" font-weight="normal" textLength="13.27" lengthAdjust="spacingAndGlyphs" stroke="#1a1a1a" stroke-width="0.16">100</text>
<line x1="278.30" y1="400.90" x2="281.50" y2="400.90" stroke="#1a1a1a" stroke-width="1.1"/>
<text x="275.30" y="403.80" font-size="8.2" text-anchor="end" fill="#1a1a1a" font-weight="normal" textLength="8.84" lengthAdjust="spacingAndGlyphs" stroke="#1a1a1a" stroke-width="0.16">50</text>
<line x1="278.30" y1="418.20" x2="281.50" y2="418.20" stroke="#1a1a1a" stroke-width="1.1"/>
<text x="275.30" y="421.10" font-size="8.2" text-anchor="end" fill="#1a1a1a" font-weight="normal" textLength="4.42" lengthAdjust="spacingAndGlyphs" stroke="#1a1a1a" stroke-width="0.16">0</text>
<line x1="292.00" y1="418.20" x2="292.00" y2="421.80" stroke="#1a1a1a" stroke-width="1.0"/>
<line x1="307.80" y1="418.20" x2="307.80" y2="421.80" stroke="#1a1a1a" stroke-width="1.0"/>
<line x1="323.45" y1="418.20" x2="323.45" y2="421.80" stroke="#1a1a1a" stroke-width="1.0"/>
<line x1="339.10" y1="418.20" x2="339.10" y2="421.80" stroke="#1a1a1a" stroke-width="1.0"/>
<text transform="translate(256.60,381.60) rotate(-90)" font-size="9.8" text-anchor="middle" fill="#1a1a1a" stroke="#1a1a1a" stroke-width="0.16" textLength="83.40" lengthAdjust="spacingAndGlyphs">Lung PMN counts (X10<tspan font-size="5.8" dy="-3.4">4</tspan><tspan dy="3.4">)</tspan></text>
<text x="292.80" y="336.80" font-size="10.4" text-anchor="start" fill="#1a1a1a" font-weight="normal" textLength="45.30" lengthAdjust="spacingAndGlyphs" stroke="#1a1a1a" stroke-width="0.16">Lung PMN</text>
<line x1="292.40" y1="348.00" x2="324.40" y2="348.00" stroke="#3c3c3c" stroke-width="1.15"/>
<line x1="292.40" y1="346.00" x2="292.40" y2="350.00" stroke="#3c3c3c" stroke-width="1.1"/>
<line x1="324.40" y1="346.00" x2="324.40" y2="350.00" stroke="#3c3c3c" stroke-width="1.1"/>
<path d="M306.12,344.00L306.12,342.40M306.12,344.00L307.65,343.51M306.12,344.00L307.07,345.29M306.12,344.00L305.18,345.29M306.12,344.00L304.60,343.51" stroke="#1e1e1e" stroke-width="1.1" fill="none"/>
<path d="M309.88,344.00L309.88,342.40M309.88,344.00L311.40,343.51M309.88,344.00L310.82,345.29M309.88,344.00L308.93,345.29M309.88,344.00L308.35,343.51" stroke="#1e1e1e" stroke-width="1.1" fill="none"/>
<line x1="325.20" y1="348.00" x2="341.40" y2="348.00" stroke="#3c3c3c" stroke-width="1.15"/>
<line x1="325.20" y1="346.00" x2="325.20" y2="350.00" stroke="#3c3c3c" stroke-width="1.1"/>
<line x1="341.40" y1="346.00" x2="341.40" y2="350.00" stroke="#3c3c3c" stroke-width="1.1"/>
<path d="M331.15,344.00L331.15,342.40M331.15,344.00L332.67,343.51M331.15,344.00L332.09,345.29M331.15,344.00L330.21,345.29M331.15,344.00L329.63,343.51" stroke="#1e1e1e" stroke-width="1.1" fill="none"/>
<path d="M334.90,344.00L334.90,342.40M334.90,344.00L336.42,343.51M334.90,344.00L335.84,345.29M334.90,344.00L333.96,345.29M334.90,344.00L333.38,343.51" stroke="#1e1e1e" stroke-width="1.1" fill="none"/>
<path d="M338.65,344.00L338.65,342.40M338.65,344.00L340.17,343.51M338.65,344.00L339.59,345.29M338.65,344.00L337.71,345.29M338.65,344.00L337.13,343.51" stroke="#1e1e1e" stroke-width="1.1" fill="none"/>
<line x1="291.30" y1="385.80" x2="308.60" y2="385.80" stroke="#3c3c3c" stroke-width="1.15"/>
<line x1="291.30" y1="383.80" x2="291.30" y2="387.80" stroke="#3c3c3c" stroke-width="1.1"/>
<line x1="308.60" y1="383.80" x2="308.60" y2="387.80" stroke="#3c3c3c" stroke-width="1.1"/>
<path d="M298.08,381.80L298.08,380.20M298.08,381.80L299.60,381.31M298.08,381.80L299.02,383.09M298.08,381.80L297.13,383.09M298.08,381.80L296.55,381.31" stroke="#1e1e1e" stroke-width="1.1" fill="none"/>
<path d="M301.83,381.80L301.83,380.20M301.83,381.80L303.35,381.31M301.83,381.80L302.77,383.09M301.83,381.80L300.88,383.09M301.83,381.80L300.30,381.31" stroke="#1e1e1e" stroke-width="1.1" fill="none"/>
<text transform="translate(295.30,427.60) rotate(-45)" font-size="8.0" text-anchor="end" fill="#1a1a1a" stroke="#1a1a1a" stroke-width="0.08">Iso</text>
<text transform="translate(311.10,427.60) rotate(-45)" font-size="8.0" text-anchor="end" fill="#1a1a1a" stroke="#1a1a1a" stroke-width="0.08">Ly6G</text>
<text transform="translate(326.75,427.60) rotate(-45)" font-size="8.0" text-anchor="end" fill="#1a1a1a" stroke="#1a1a1a" stroke-width="0.08">Iso</text>
<text transform="translate(342.40,427.60) rotate(-45)" font-size="8.0" text-anchor="end" fill="#1a1a1a" stroke="#1a1a1a" stroke-width="0.08">Ly6G</text>
<line x1="284.20" y1="445.10" x2="310.80" y2="445.10" stroke="#333333" stroke-width="1.15"/>
<line x1="315.80" y1="445.10" x2="342.20" y2="445.10" stroke="#333333" stroke-width="1.15"/>
<text x="291.60" y="454.60" font-size="8.4" text-anchor="start" fill="#1a1a1a" font-weight="normal" textLength="11.90" lengthAdjust="spacingAndGlyphs" stroke="#1a1a1a" stroke-width="0.16">WT</text>
<text x="319.90" y="454.60" font-size="8.4" text-anchor="start" fill="#1a1a1a" font-weight="normal" textLength="18.20" lengthAdjust="spacingAndGlyphs" stroke="#1a1a1a" stroke-width="0.16">CGD</text>
<rect x="407.70" y="403.70" width="10.00" height="14.50" fill="#c7cadd"/>
<rect x="423.80" y="404.70" width="9.70" height="13.50" fill="#c7cadd"/>
<rect x="439.90" y="370.00" width="10.00" height="48.20" fill="#e4c8bf"/>
<rect x="455.40" y="406.00" width="9.70" height="12.20" fill="#e4c8bf"/>
<line x1="402.40" y1="346.30" x2="402.40" y2="418.80" stroke="#1a1a1a" stroke-width="1.3"/>
<line x1="401.80" y1="418.20" x2="470.40" y2="418.20" stroke="#1a1a1a" stroke-width="1.3"/>
<line x1="412.70" y1="400.10" x2="412.70" y2="407.40" stroke="#111" stroke-width="1.15"/>
<line x1="410.10" y1="400.10" x2="415.30" y2="400.10" stroke="#111" stroke-width="1.1"/>
<line x1="410.10" y1="407.40" x2="415.30" y2="407.40" stroke="#111" stroke-width="1.1"/>
<line x1="428.65" y1="401.10" x2="428.65" y2="406.60" stroke="#111" stroke-width="1.15"/>
<line x1="426.05" y1="401.10" x2="431.25" y2="401.10" stroke="#111" stroke-width="1.1"/>
<line x1="426.05" y1="406.60" x2="431.25" y2="406.60" stroke="#111" stroke-width="1.1"/>
<line x1="444.90" y1="365.90" x2="444.90" y2="373.90" stroke="#111" stroke-width="1.15"/>
<line x1="442.30" y1="365.90" x2="447.50" y2="365.90" stroke="#111" stroke-width="1.1"/>
<line x1="442.30" y1="373.90" x2="447.50" y2="373.90" stroke="#111" stroke-width="1.1"/>
<line x1="460.25" y1="403.60" x2="460.25" y2="406.60" stroke="#111" stroke-width="1.15"/>
<line x1="457.65" y1="403.60" x2="462.85" y2="403.60" stroke="#111" stroke-width="1.1"/>
<line x1="457.65" y1="406.60" x2="462.85" y2="406.60" stroke="#111" stroke-width="1.1"/>
<circle cx="412.80" cy="394.50" r="1.7" fill="#12327a" stroke="#fff" stroke-width="0.5" stroke-opacity="0.55"/>
<circle cx="412.80" cy="402.60" r="1.7" fill="#12327a" stroke="#fff" stroke-width="0.5" stroke-opacity="0.55"/>
<circle cx="410.60" cy="409.60" r="1.7" fill="#12327a" stroke="#fff" stroke-width="0.5" stroke-opacity="0.55"/>
<circle cx="415.00" cy="407.70" r="1.7" fill="#12327a" stroke="#fff" stroke-width="0.5" stroke-opacity="0.55"/>
<circle cx="425.70" cy="399.20" r="1.7" fill="#12327a" stroke="#fff" stroke-width="0.5" stroke-opacity="0.55"/>
<circle cx="431.90" cy="399.70" r="1.7" fill="#12327a" stroke="#fff" stroke-width="0.5" stroke-opacity="0.55"/>
<circle cx="428.60" cy="402.60" r="1.7" fill="#12327a" stroke="#fff" stroke-width="0.5" stroke-opacity="0.55"/>
<circle cx="429.70" cy="407.00" r="1.7" fill="#12327a" stroke="#fff" stroke-width="0.5" stroke-opacity="0.55"/>
<circle cx="428.60" cy="412.60" r="1.7" fill="#12327a" stroke="#fff" stroke-width="0.5" stroke-opacity="0.55"/>
<circle cx="444.60" cy="357.40" r="1.7" fill="#b50c28" stroke="#fff" stroke-width="0.5" stroke-opacity="0.55"/>
<circle cx="442.40" cy="366.70" r="1.7" fill="#b50c28" stroke="#fff" stroke-width="0.5" stroke-opacity="0.55"/>
<circle cx="446.50" cy="366.70" r="1.7" fill="#b50c28" stroke="#fff" stroke-width="0.5" stroke-opacity="0.55"/>
<circle cx="444.60" cy="374.70" r="1.7" fill="#b50c28" stroke="#fff" stroke-width="0.5" stroke-opacity="0.55"/>
<circle cx="444.60" cy="381.30" r="1.7" fill="#b50c28" stroke="#fff" stroke-width="0.5" stroke-opacity="0.55"/>
<circle cx="460.50" cy="401.10" r="1.7" fill="#b50c28" stroke="#fff" stroke-width="0.5" stroke-opacity="0.55"/>
<circle cx="457.50" cy="404.50" r="1.7" fill="#b50c28" stroke="#fff" stroke-width="0.5" stroke-opacity="0.55"/>
<circle cx="463.80" cy="407.00" r="1.7" fill="#b50c28" stroke="#fff" stroke-width="0.5" stroke-opacity="0.55"/>
<circle cx="460.50" cy="408.20" r="1.7" fill="#b50c28" stroke="#fff" stroke-width="0.5" stroke-opacity="0.55"/>
<line x1="399.20" y1="348.90" x2="402.40" y2="348.90" stroke="#1a1a1a" stroke-width="1.1"/>
<text x="396.30" y="351.80" font-size="8.2" text-anchor="end" fill="#1a1a1a" font-weight="normal" textLength="13.27" lengthAdjust="spacingAndGlyphs" stroke="#1a1a1a" stroke-width="0.16">800</text>
<line x1="399.20" y1="366.20" x2="402.40" y2="366.20" stroke="#1a1a1a" stroke-width="1.1"/>
<text x="396.30" y="369.10" font-size="8.2" text-anchor="end" fill="#1a1a1a" font-weight="normal" textLength="13.27" lengthAdjust="spacingAndGlyphs" stroke="#1a1a1a" stroke-width="0.16">600</text>
<line x1="399.20" y1="383.80" x2="402.40" y2="383.80" stroke="#1a1a1a" stroke-width="1.1"/>
<text x="396.30" y="386.70" font-size="8.2" text-anchor="end" fill="#1a1a1a" font-weight="normal" textLength="13.27" lengthAdjust="spacingAndGlyphs" stroke="#1a1a1a" stroke-width="0.16">400</text>
<line x1="399.20" y1="401.20" x2="402.40" y2="401.20" stroke="#1a1a1a" stroke-width="1.1"/>
<text x="396.30" y="404.10" font-size="8.2" text-anchor="end" fill="#1a1a1a" font-weight="normal" textLength="13.27" lengthAdjust="spacingAndGlyphs" stroke="#1a1a1a" stroke-width="0.16">200</text>
<line x1="399.20" y1="418.30" x2="402.40" y2="418.30" stroke="#1a1a1a" stroke-width="1.1"/>
<text x="396.30" y="421.20" font-size="8.2" text-anchor="end" fill="#1a1a1a" font-weight="normal" textLength="4.42" lengthAdjust="spacingAndGlyphs" stroke="#1a1a1a" stroke-width="0.16">0</text>
<line x1="412.70" y1="418.20" x2="412.70" y2="421.80" stroke="#1a1a1a" stroke-width="1.0"/>
<line x1="428.65" y1="418.20" x2="428.65" y2="421.80" stroke="#1a1a1a" stroke-width="1.0"/>
<line x1="444.90" y1="418.20" x2="444.90" y2="421.80" stroke="#1a1a1a" stroke-width="1.0"/>
<line x1="460.25" y1="418.20" x2="460.25" y2="421.80" stroke="#1a1a1a" stroke-width="1.0"/>
<text transform="translate(377.10,381.60) rotate(-90)" font-size="9.8" text-anchor="middle" fill="#1a1a1a" stroke="#1a1a1a" stroke-width="0.16" textLength="102.50" lengthAdjust="spacingAndGlyphs">LTB4 (pg/ml per 100 mg lung)</text>
<text x="414.50" y="336.70" font-size="10.4" text-anchor="start" fill="#1a1a1a" font-weight="normal" textLength="44.60" lengthAdjust="spacingAndGlyphs" stroke="#1a1a1a" stroke-width="0.16">Lung LTB4</text>
<line x1="412.50" y1="350.10" x2="441.90" y2="350.10" stroke="#3c3c3c" stroke-width="1.15"/>
<line x1="412.50" y1="348.10" x2="412.50" y2="352.10" stroke="#3c3c3c" stroke-width="1.1"/>
<line x1="441.90" y1="348.10" x2="441.90" y2="352.10" stroke="#3c3c3c" stroke-width="1.1"/>
<path d="M428.65,346.10L428.65,344.50M428.65,346.10L430.17,345.61M428.65,346.10L429.59,347.39M428.65,346.10L427.71,347.39M428.65,346.10L427.13,345.61" stroke="#1e1e1e" stroke-width="1.1" fill="none"/>
<path d="M432.40,346.10L432.40,344.50M432.40,346.10L433.92,345.61M432.40,346.10L433.34,347.39M432.40,346.10L431.46,347.39M432.40,346.10L430.88,345.61" stroke="#1e1e1e" stroke-width="1.1" fill="none"/>
<path d="M436.15,346.10L436.15,344.50M436.15,346.10L437.67,345.61M436.15,346.10L437.09,347.39M436.15,346.10L435.21,347.39M436.15,346.10L434.63,345.61" stroke="#1e1e1e" stroke-width="1.1" fill="none"/>
<line x1="442.70" y1="350.10" x2="461.60" y2="350.10" stroke="#3c3c3c" stroke-width="1.15"/>
<line x1="442.70" y1="348.10" x2="442.70" y2="352.10" stroke="#3c3c3c" stroke-width="1.1"/>
<line x1="461.60" y1="348.10" x2="461.60" y2="352.10" stroke="#3c3c3c" stroke-width="1.1"/>
<path d="M448.65,346.10L448.65,344.50M448.65,346.10L450.17,345.61M448.65,346.10L449.59,347.39M448.65,346.10L447.71,347.39M448.65,346.10L447.13,345.61" stroke="#1e1e1e" stroke-width="1.1" fill="none"/>
<path d="M452.40,346.10L452.40,344.50M452.40,346.10L453.92,345.61M452.40,346.10L453.34,347.39M452.40,346.10L451.46,347.39M452.40,346.10L450.88,345.61" stroke="#1e1e1e" stroke-width="1.1" fill="none"/>
<path d="M456.15,346.10L456.15,344.50M456.15,346.10L457.67,345.61M456.15,346.10L457.09,347.39M456.15,346.10L455.21,347.39M456.15,346.10L454.63,345.61" stroke="#1e1e1e" stroke-width="1.1" fill="none"/>
<text transform="translate(416.00,427.60) rotate(-45)" font-size="8.0" text-anchor="end" fill="#1a1a1a" stroke="#1a1a1a" stroke-width="0.08">Iso</text>
<text transform="translate(431.95,427.60) rotate(-45)" font-size="8.0" text-anchor="end" fill="#1a1a1a" stroke="#1a1a1a" stroke-width="0.08">Ly6G</text>
<text transform="translate(448.20,427.60) rotate(-45)" font-size="8.0" text-anchor="end" fill="#1a1a1a" stroke="#1a1a1a" stroke-width="0.08">Iso</text>
<text transform="translate(463.55,427.60) rotate(-45)" font-size="8.0" text-anchor="end" fill="#1a1a1a" stroke="#1a1a1a" stroke-width="0.08">Ly6G</text>
<line x1="405.30" y1="445.10" x2="431.90" y2="445.10" stroke="#333333" stroke-width="1.15"/>
<line x1="436.90" y1="445.10" x2="463.50" y2="445.10" stroke="#333333" stroke-width="1.15"/>
<text x="411.50" y="454.50" font-size="8.4" text-anchor="start" fill="#1a1a1a" font-weight="normal" textLength="12.70" lengthAdjust="spacingAndGlyphs" stroke="#1a1a1a" stroke-width="0.16">WT</text>
<text x="441.50" y="454.50" font-size="8.4" text-anchor="start" fill="#1a1a1a" font-weight="normal" textLength="17.80" lengthAdjust="spacingAndGlyphs" stroke="#1a1a1a" stroke-width="0.16">CGD</text>
<text x="6.60" y="16.90" font-size="12.4" font-weight="bold" fill="#000" textLength="9.3" lengthAdjust="spacingAndGlyphs">A</text>
<text x="7.40" y="170.10" font-size="12.4" font-weight="bold" fill="#000" textLength="8.0" lengthAdjust="spacingAndGlyphs">B</text>
<text x="355.60" y="170.30" font-size="12.4" font-weight="bold" fill="#000" textLength="8.6" lengthAdjust="spacingAndGlyphs">C</text>
<text x="7.40" y="320.10" font-size="12.4" font-weight="bold" fill="#000" textLength="8.9" lengthAdjust="spacingAndGlyphs">D</text>
<text x="359.40" y="320.10" font-size="12.4" font-weight="bold" fill="#000" textLength="6.9" lengthAdjust="spacingAndGlyphs">E</text>
<line x1="40.50" y1="48.00" x2="40.50" y2="128.80" stroke="#3f5b91" stroke-width="1.1"/>
<line x1="29.70" y1="51.80" x2="50.60" y2="51.80" stroke="#3f5b91" stroke-width="1.1"/>
<line x1="29.70" y1="78.40" x2="50.60" y2="78.40" stroke="#3f5b91" stroke-width="1.1"/>
<line x1="29.70" y1="103.30" x2="50.60" y2="103.30" stroke="#3f5b91" stroke-width="1.1"/>
<line x1="29.70" y1="128.30" x2="50.60" y2="128.30" stroke="#3f5b91" stroke-width="1.1"/>
<line x1="40.50" y1="113.00" x2="50.60" y2="113.00" stroke="#3f5b91" stroke-width="1.1"/>
<text x="16.50" y="54.70" font-size="9.0" text-anchor="start" fill="#1a1a1a" font-weight="normal" textLength="10.20" lengthAdjust="spacingAndGlyphs" stroke="#1a1a1a" stroke-width="0.16">D0</text>
<text x="16.50" y="80.90" font-size="9.0" text-anchor="start" fill="#1a1a1a" font-weight="normal" textLength="10.20" lengthAdjust="spacingAndGlyphs" stroke="#1a1a1a" stroke-width="0.16">D1</text>
<text x="16.50" y="105.70" font-size="9.0" text-anchor="start" fill="#1a1a1a" font-weight="normal" textLength="10.20" lengthAdjust="spacingAndGlyphs" stroke="#1a1a1a" stroke-width="0.16">D2</text>
<text x="16.50" y="130.50" font-size="9.0" text-anchor="start" fill="#1a1a1a" font-weight="normal" textLength="10.20" lengthAdjust="spacingAndGlyphs" stroke="#1a1a1a" stroke-width="0.16">D3</text>
<text x="54.20" y="54.80" font-size="9.0" text-anchor="start" fill="#1a1a1a" font-weight="normal" textLength="117.40" lengthAdjust="spacingAndGlyphs" stroke="#1a1a1a" stroke-width="0.16">Anti-Ly6G (1A8) or Isotype (2A3)</text>
<text x="54.20" y="81.00" font-size="9.0" text-anchor="start" fill="#5aa846" font-weight="normal" textLength="132.60" lengthAdjust="spacingAndGlyphs" stroke="#5aa846" stroke-width="0.16">Anti-rat-kappa light chain (MAR18.5)</text>
<text x="54.20" y="105.60" font-size="9.0" text-anchor="start" fill="#1a1a1a" font-weight="normal" textLength="117.40" lengthAdjust="spacingAndGlyphs" stroke="#1a1a1a" stroke-width="0.16">Anti-Ly6G (1A8) or Isotype (2A3)</text>
<text x="54.20" y="115.10" font-size="9.0" text-anchor="start" fill="#66407f" font-weight="normal" textLength="79.80" lengthAdjust="spacingAndGlyphs" stroke="#66407f" stroke-width="0.16">Zymosan IN challenge</text>
<text x="54.20" y="130.50" font-size="9.0" text-anchor="start" fill="#1a1a1a" font-weight="normal" textLength="65.30" lengthAdjust="spacingAndGlyphs" stroke="#1a1a1a" stroke-width="0.16">Sac after 14 hours</text>
<defs><linearGradient id="earg" x1="0" y1="0" x2="0" y2="1"><stop offset="0" stop-color="#5a5a5a"/><stop offset="1" stop-color="#b4b4b4"/></linearGradient></defs>
<path d="M25.9,27.5 C28.2,27.6 30.2,26.6 31.8,25.0 C33.6,23.4 35.6,22.5 37.6,22.6 C39.3,22.8 40.5,23.8 41.1,25.6" stroke="#262626" stroke-width="1.1" fill="none" stroke-linecap="round"/>
<path d="M34.0,35.4 A7.4,7.4 0 1 1 47.6,35.4 C47.6,37.2 46.6,39.0 45.4,40.6 C44.4,42.0 43.0,43.3 40.8,43.3 C38.6,43.3 37.2,42.0 36.2,40.6 C35.0,39.0 34.0,37.2 34.0,35.4 Z" fill="#b0b0b0" stroke="#404040" stroke-width="0.95"/>
<path d="M32.8,35.4 C33.8,33.0 38.2,32.6 39.8,35.8 L39.4,38.2 C37.8,36.8 35.6,36.8 34.2,37.8 Z" fill="url(#earg)"/>
<path d="M48.8,35.4 C47.8,33.0 43.4,32.6 41.8,35.8 L42.2,38.2 C43.8,36.8 46.0,36.8 47.4,37.8 Z" fill="url(#earg)"/>
<path d="M32.7,35.6 C33.4,32.4 38.4,31.6 39.8,35.9" stroke="#2a2a2a" stroke-width="1.25" fill="none" stroke-linecap="round"/>
<path d="M48.9,35.6 C48.2,32.4 43.2,31.6 41.8,35.9" stroke="#2a2a2a" stroke-width="1.25" fill="none" stroke-linecap="round"/>
<circle cx="38.8" cy="40.1" r="0.8" fill="#4a4a4a"/><circle cx="42.8" cy="40.1" r="0.8" fill="#4a4a4a"/>
<path d="M37.5,41.8 C38.8,43.9 42.8,43.9 44.1,41.8" stroke="#1e1e1e" stroke-width="1.25" fill="none"/>
<path d="M36.2,42.2 L34.8,45.0 M36.6,42.6 L36.4,45.6 M35.8,41.8 L33.6,42.8 M45.8,42.2 L47.2,45.0 M45.4,42.6 L45.6,45.6 M46.2,41.8 L48.4,42.8" stroke="#8a8a8a" stroke-width="0.55" fill="none"/>
<rect x="0.6" y="0.6" width="518.8" height="462.8" fill="none" stroke="#000" stroke-width="1.3"/>
</svg></body></html>
